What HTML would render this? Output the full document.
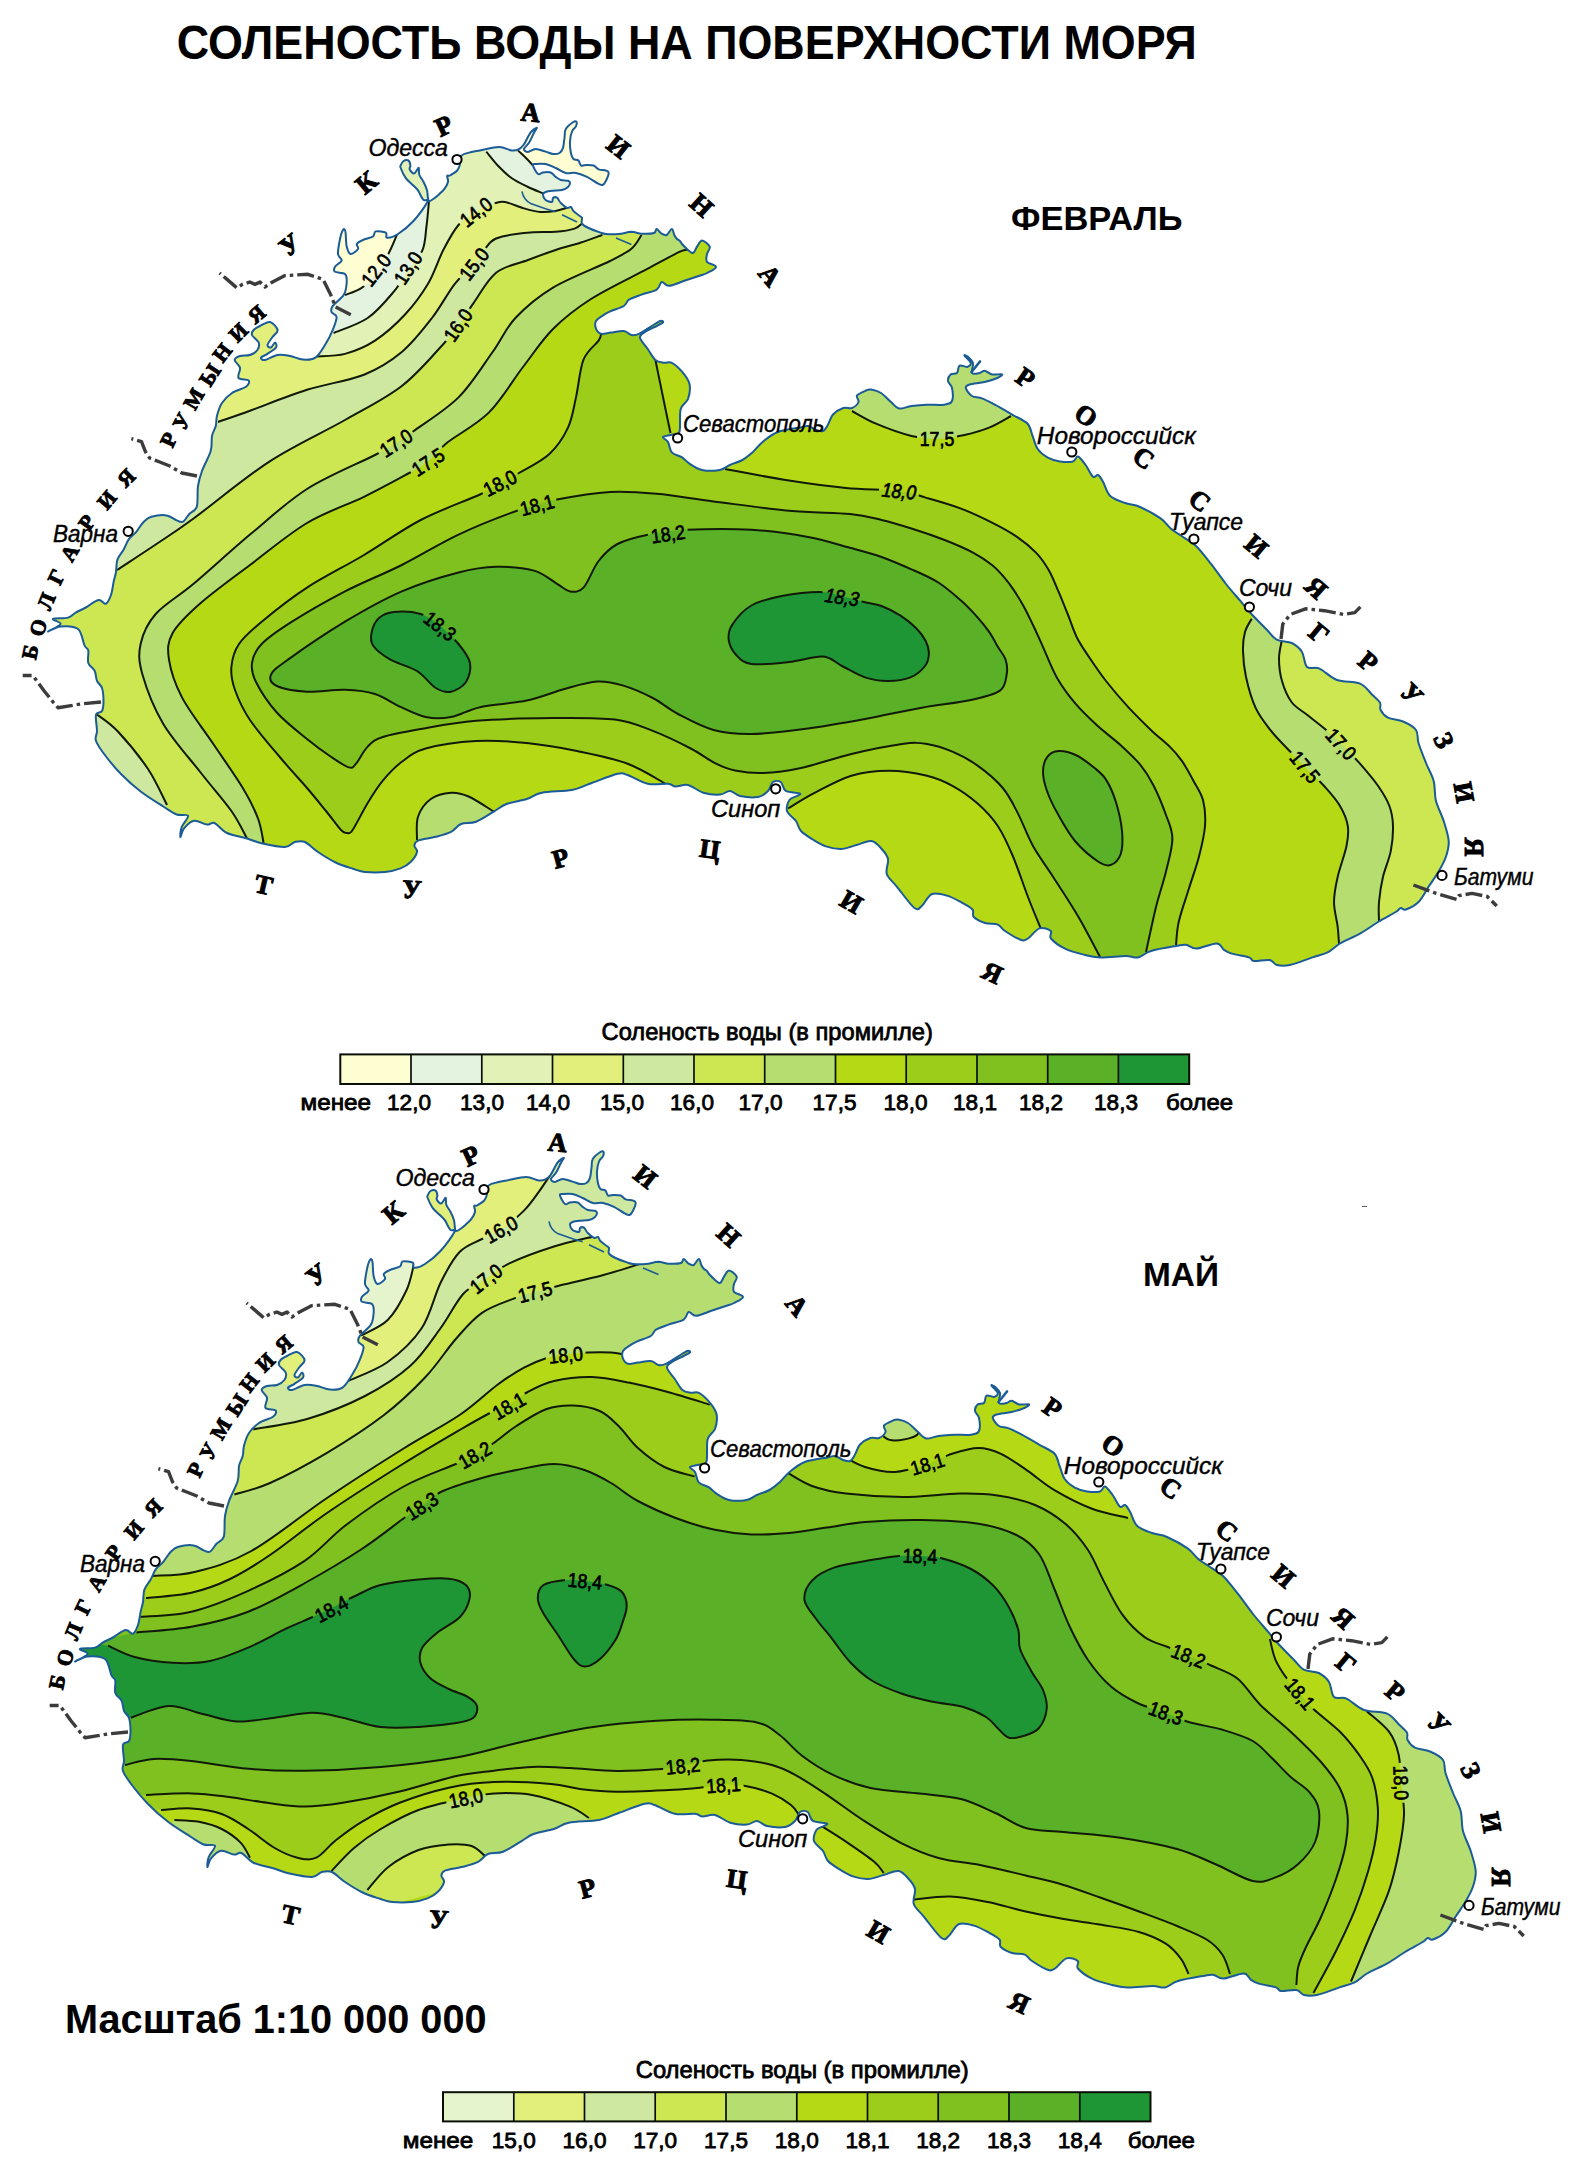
<!DOCTYPE html>
<html lang="ru"><head><meta charset="utf-8"><title>Соленость воды на поверхности моря</title>
<style>html,body{margin:0;padding:0;background:#fff}svg{display:block}</style></head><body>
<svg width="1585" height="2176" viewBox="0 0 1585 2176">
<rect width="1585" height="2176" fill="#fff"/>
<defs>
<path id="coast" d="M461.5,155.7C463.5,153.5 468.5,152.9 471.6,152C474.7,151.1 475.4,151.2 480,150.4C484.6,149.6 493.8,147 499,147C504.2,147 508.4,150 511.5,150.4C514.6,150.8 515.9,150.6 517.9,149.7C519.9,148.8 521.4,147.8 523.5,145C525.6,142.2 528.3,135.6 530.5,132.7C532.7,129.8 536.2,127.7 536.8,127.7C537.4,127.7 535.3,130.2 534,132.7C532.7,135.2 530.7,140.1 529,142.8C527.3,145.5 524.2,147.5 524,149C523.8,150.5 526.1,152 528,152C529.9,152 532.6,149.1 535.5,149C538.4,148.9 542.7,150.8 545.6,151.6C548.5,152.4 550.7,153.8 553,154C555.3,154.2 557.8,154 559.5,153C561.2,152 562.2,150.4 563,147.9C563.8,145.4 564,141 564.5,137.8C565,134.7 564.3,131.6 565.8,129C567.3,126.4 571.6,123.2 573.4,122C575.2,120.8 576.1,121.3 576.5,122C576.9,122.7 576.6,124.8 575.9,126.4C575.1,128 573,129 572,131.5C571,134 570.2,137.9 570,141.5C569.8,145.1 570.3,150.1 570.9,153C571.5,155.9 572.1,157.8 573.4,159C574.6,160.2 577.1,159.4 578.4,160.5C579.7,161.6 579.6,164.8 581,165.5C582.4,166.2 584.9,164.9 587,164.9C589.1,164.9 591.7,164.8 593.6,165.5C595.5,166.2 596.5,168.5 598.6,169.3C600.7,170.2 604.3,170 606,170.6C607.7,171.2 608.7,171.3 608.7,173C608.7,174.7 607,178.7 606,180.7C605,182.7 603.9,184.6 602.4,185C600.9,185.4 599.6,184.3 597,183C594.4,181.7 590.5,178.6 587,176.9C583.5,175.2 579.5,173.7 576,173C572.5,172.3 569.2,173.8 565.8,173C562.4,172.2 559.1,169.5 555.7,168C552.3,166.5 549,164.7 545.6,164C542.2,163.3 537.6,163.8 535.5,164C533.4,164.2 532.6,163.8 533,165.5C533.4,167.2 536.3,172.8 538,174C539.7,175.2 540.9,172.8 543,172.5C545.1,172.2 548.6,171.8 550.7,172.5C552.8,173.2 554,175.7 555.7,176.9C557.4,178.2 558.8,179.4 560.8,180C562.8,180.6 566.5,180.2 568,180.7C569.5,181.2 570,181.9 570,183C570,184.1 569.3,185.8 568,187C566.7,188.2 564.5,189.4 562,190C559.5,190.6 555.7,190.5 553,190.8C550.3,191.1 547.3,191.4 545.6,192C543.9,192.6 543,193.2 543,194.5C543,195.8 544.1,198.8 545.6,200C547.1,201.2 550.8,202.3 552,202C553.2,201.7 552.2,198.7 553,198C553.8,197.3 555.7,196.9 557,197.7C558.3,198.5 559.1,201.3 560.8,203C562.5,204.7 565.3,207.1 567,207.8C568.7,208.5 569.8,206.5 570.9,207C572,207.5 571.9,209.5 573.4,211C574.9,212.5 578.3,214.8 579.7,216C581.1,217.2 581.6,216.6 582,217.9C582.4,219.2 580.9,221.9 582,223.6C583.1,225.3 585.5,226.5 588.5,228C591.5,229.5 597,231.4 599.9,232.4C602.8,233.4 602.9,233.7 606,234C609.1,234.3 614.6,234.4 618.8,234C623,233.6 627.6,231.9 631.4,231.8C635.2,231.8 637.7,233.5 641.5,233.7C645.3,233.9 651.5,233.8 654,233C656.5,232.2 655.4,228.9 656.7,229C658,229.1 660,232.7 661.7,233.7C663.4,234.7 665,235.8 666.7,235C668.4,234.2 670.5,229 671.8,229C673.1,229 673.5,233.4 674.3,235C675.1,236.6 675.8,237.7 676.8,238.7C677.8,239.7 679.1,240.1 680,241C680.9,241.9 680.8,242.7 682,244C683.2,245.3 685.2,247.5 687,249C688.8,250.5 691.3,253.4 693,253C694.7,252.6 695.5,248.8 697,246.7C698.5,244.6 699.9,240.4 702,240.4C704.1,240.4 708.9,244.4 709.7,246.7C710.5,249 707.5,251.5 707,254C706.5,256.5 705.5,259.7 707,261.8C708.5,263.9 716,265 716,266.9C716,268.8 709.7,271.5 707,273C704.3,274.5 703.4,274.4 699.6,275.7C695.8,277 689.5,279.1 684.4,280.8C679.3,282.5 672.8,285.6 669,285.8C665.2,286 663.8,281.4 661.7,282C659.7,282.6 660.1,287.5 656.7,289.6C653.3,291.7 646.1,292.9 641.5,294.6C636.9,296.3 632,297.8 629,299.7C626,301.6 626.8,304.1 623.8,306C620.8,307.9 614.4,309.5 611,311C607.6,312.5 606.2,313.1 603.7,314.8C601.2,316.5 597.3,318.7 596,321C594.7,323.3 595.2,326.6 596,328.7C596.8,330.8 598.5,333.2 601,333.8C603.5,334.4 607.2,333 611,332.5C614.8,332 620.4,330.6 623.8,331C627.2,331.4 628.9,334.5 631.4,335C633.9,335.5 635.6,335.3 639,333.8C642.4,332.3 648,328.1 651.6,326C655.2,323.9 658.5,321.6 660.4,321C662.3,320.4 663.6,321.6 663,322.4C662.4,323.2 659.4,324.6 656.7,326C654,327.4 649.4,329.1 646.6,331C643.8,332.9 639.8,334.5 640,337.5C640.2,340.5 645.2,345.2 647.8,349C650.4,352.8 652.7,357.7 655.4,360C658.1,362.3 661.3,362.3 664,362.8C666.7,363.3 668.8,361.3 671.8,362.8C674.8,364.3 679,368.1 682,371.6C685,375.1 688.5,379.4 689.5,384C690.5,388.6 689.5,394.8 688,399C686.5,403.2 682,404 680.6,409.5C679.2,415 680.9,427.8 679.4,432C677.9,436.2 674.5,433.9 671.8,434.7C669.1,435.5 663.6,435.8 663,437C662.4,438.2 666.5,439.4 668,442C669.5,444.6 669.5,449.8 671.8,452.4C674.1,455 679,455.5 682,457.4C685,459.3 686.2,461.6 689.5,463.7C692.8,465.8 697,468.9 702,470C707,471.1 715.1,470.8 719.7,470C724.3,469.2 726,466.7 729.8,465C733.6,463.3 738.7,462.1 742.5,460C746.3,457.9 749.1,455.4 752.5,452.4C755.9,449.4 758.4,445.4 762.6,442C766.8,438.6 771.5,434.4 777.8,432C784.1,429.6 795.5,428.4 800.5,427.4C805.5,426.4 805.5,425.6 808,426C810.5,426.4 813.1,428.9 815.6,429.7C818.1,430.5 820.9,431.9 823,431C825.1,430.1 826.3,427.4 828,424.6C829.7,421.9 830.4,417.3 833,414.5C835.6,411.7 840.2,409.1 843.4,408C846.6,406.9 849.5,409 852,408C854.5,407 857.7,404.1 858.5,402C859.3,399.9 855.8,397.5 857,395.6C858.2,393.7 863.7,391.5 866,390.5C868.3,389.5 868.5,389.2 871,389.6C873.5,390 877.7,390.9 881,393C884.3,395.1 888,399.4 891,402C894,404.6 895.6,407.8 899,408.5C902.4,409.2 906.9,406.6 911.5,406C916.1,405.4 921.3,404.9 926.7,404.7C932.1,404.5 939.8,405.3 944,404.7C948.2,404.1 950.7,403.8 952,401C953.3,398.2 952.7,391.4 952,388C951.3,384.6 948.2,383.1 948,380.8C947.8,378.5 949.1,375.7 950.6,374.4C952.1,373.1 955.5,374.5 957,373C958.5,371.5 957.8,366.6 959.5,365.6C961.2,364.6 965.1,367.3 967,366.9C968.9,366.5 971.2,364.9 970.8,363C970.4,361.1 965,356.5 964.5,355.5C964,354.5 966.6,355.6 968,356.8C969.4,358.1 972.3,360.3 973,363C973.7,365.7 970.9,371.3 972,373C973.1,374.7 977.5,373.4 979.6,373C981.7,372.6 982.6,370.5 984.7,370.7C986.8,370.9 989.1,373.8 992,374.4C994.9,375 1001.1,373.8 1002,374.4C1002.9,375 1000.2,376.7 997.3,378C994.4,379.3 989.3,380.9 984.7,382C980.1,383.1 972.8,383.5 969.6,384.5C966.5,385.5 965.4,386.1 965.8,388C966.2,389.9 969.3,394.3 972,396C974.7,397.7 978.2,396.9 982,398.4C985.8,399.8 989.7,402 994.8,404.7C999.9,407.4 1007,411.6 1012.5,414.8C1018,418 1024.2,420.2 1027.6,423.7C1030.9,427.2 1030.9,431.8 1032.6,436C1034.3,440.2 1035.2,445.4 1037.7,449C1040.2,452.6 1044.1,455.6 1047.8,457.7C1051.5,459.8 1055.8,460.9 1060,461.5C1064.2,462.1 1070,462.3 1073,461.5C1076,460.7 1075.9,455.9 1078,456.5C1080.1,457.1 1083.1,461.6 1085.6,465C1088.1,468.4 1090.9,475 1093,476.7C1095.1,478.4 1096.3,474.2 1098,475C1099.7,475.8 1101,478.2 1103,481.7C1105,485.1 1106.3,492.1 1110,495.7C1113.7,499.2 1120,501.1 1125,503C1130,504.9 1134.1,504.4 1140,507C1145.9,509.6 1155.5,514.8 1160.6,518.4C1165.7,522 1167,525.4 1170.7,528.5C1174.4,531.6 1178.8,534.1 1183,537C1187.2,539.9 1191.3,541.5 1196,546C1200.7,550.5 1206,557.6 1211,563.9C1216,570.2 1221,577.7 1226,584C1231,590.3 1236.8,596.7 1241,601.7C1245.2,606.7 1247.1,609.4 1251.4,614C1255.7,618.6 1262.4,625.2 1266.6,629.5C1270.8,633.8 1272.5,637.4 1276.7,639.6C1280.9,641.9 1287.6,640.9 1291.8,643C1296,645.1 1299.5,648 1302,652C1304.5,656 1304.1,664.2 1307,667C1309.9,669.8 1314.5,666.4 1319.5,668.6C1324.5,670.8 1330.2,677.5 1337,680C1343.8,682.5 1354.1,681.2 1360,683.7C1365.9,686.2 1369.2,691.9 1372.5,695C1375.8,698.1 1378.7,700.1 1380,702.6C1381.3,705.1 1379.3,707.5 1380.6,710C1381.9,712.5 1384.3,715.8 1388,717.7C1391.7,719.6 1398.3,719.5 1403,721.5C1407.7,723.5 1413.4,726.4 1416,730C1418.6,733.6 1416.8,737.5 1418.5,743C1420.2,748.5 1423.5,756.7 1426,763C1428.5,769.3 1431.9,774.5 1433.6,780.8C1435.3,787.1 1434.3,794.3 1436,801C1437.7,807.7 1441.6,814.3 1443.7,821C1445.8,827.7 1448.3,835.1 1448.7,841C1449.1,846.9 1447.7,851.4 1446,856.5C1444.3,861.6 1441.5,866.6 1438.6,871.6C1435.7,876.6 1431.8,881.7 1428.5,886.8C1425.2,891.9 1422.3,898.2 1418.5,902C1414.7,905.8 1408.8,908.5 1405.8,909.5C1402.8,910.5 1402.5,907.6 1400.8,908C1399.1,908.4 1399.5,909.7 1395.7,912C1391.9,914.3 1383.9,918.4 1378,922C1372.1,925.6 1366.7,929.8 1360.4,933.4C1354.1,937 1345.5,940.3 1340,943.5C1334.5,946.7 1332.2,950.1 1327.6,952.4C1323,954.7 1318.8,955.3 1312.5,957.4C1306.2,959.5 1295.6,963.7 1289.7,965C1283.8,966.3 1280.3,965.8 1277,965C1273.7,964.2 1273.4,960.7 1269.6,960C1265.8,959.3 1257.4,961.4 1254,961C1250.6,960.6 1252.7,958.6 1249,957.4C1245.3,956.2 1235.9,954.9 1231.7,953.6C1227.5,952.3 1226.5,951.5 1224,949.8C1221.5,948.1 1221.2,943.7 1216.6,943.5C1212,943.3 1201.5,948.4 1196.4,948.6C1191.3,948.8 1189.4,945.2 1186,944.8C1182.6,944.4 1181.8,945 1176,946C1170.2,947 1157.3,949.1 1151,951C1144.7,952.9 1142.2,956.6 1138,957.4C1133.8,958.2 1132,956 1125.7,956C1119.5,956 1107.3,957.6 1100.5,957.4C1093.7,957.2 1090.9,956.5 1085,955C1079.1,953.5 1070.7,951.4 1065,948.6C1059.3,945.9 1053.4,941.4 1051,938.5C1048.6,935.6 1052.7,932.7 1050.8,931C1048.9,929.3 1043.2,927.1 1039.4,928.4C1035.6,929.6 1031.2,936.6 1028,938.5C1024.8,940.4 1024.3,941 1020.5,939.7C1016.7,938.5 1008.8,933.5 1005,931C1001.2,928.5 1001.1,925.9 997.8,924.6C994.5,923.3 989,924.3 985,923C981,921.7 975.9,919.2 973.8,917C971.7,914.8 974.4,911.8 972.5,909.5C970.6,907.2 966.8,905.3 962.5,903C958.2,900.7 952.1,897.1 947,895.6C941.9,894.1 936.2,892.3 932,894C927.8,895.7 924.9,903.4 922,905.7C919.1,908 918.7,911.1 914.5,908C910.3,904.9 901.6,892.5 897,886.8C892.4,881.1 888.3,878.6 886.8,874C885.3,869.4 888.9,863.2 888,859C887.1,854.8 884.4,852 881.7,849C879,846 875.8,841.7 871.6,841C867.4,840.3 861.6,843.7 856.5,845C851.4,846.3 846.1,848.8 841,849C835.9,849.2 830.6,847.9 826,846.4C821.4,844.9 817.8,842.6 813.6,840C809.4,837.4 803.9,834.2 801,831C798.1,827.8 798.3,824.3 796,821C793.7,817.7 788.1,814.5 787,811C785.9,807.5 787.9,802.2 789.6,799.7C791.3,797.2 795.3,797 797,796C798.7,795 801.6,794.2 799.7,793.4C797.8,792.5 788.9,792.8 785.8,790.9C782.6,789 782.9,783.5 780.8,782C778.7,780.5 775.1,780.5 773,782C770.9,783.5 770.5,788.5 768,791C765.5,793.5 762.7,796.2 758,797C753.3,797.8 744.7,797 740,796C735.3,795 733.3,791.1 730,790.9C726.7,790.7 724.5,794.3 720,794.6C715.5,794.9 708.6,794.3 703.3,792.7C698,791.1 692.6,786 688,785C683.4,784 678.9,786.6 675.6,786.4C672.3,786.2 672.6,784.2 668,783.8C663.4,783.4 654.5,785.3 647.8,783.8C641.1,782.3 632.6,776.7 627.6,775C622.6,773.3 623.8,772.3 617.5,773.8C611.2,775.3 597.3,781.1 589.7,783.8C582.1,786.5 580,788.5 572,790C564,791.5 549.3,791.2 541.8,792.7C534.2,794.2 532.6,797.1 526.7,799C520.8,800.9 512,801.9 506.5,804C501,806.1 498.9,808.6 493.8,811.6C488.7,814.6 481.5,819.6 476,821.7C470.5,823.8 465.2,822.3 461,824C456.8,825.7 455.2,829.7 451,831.8C446.8,833.9 441.3,835.3 435.8,836.8C430.3,838.3 421.6,839.1 418,840.6C414.4,842.1 414.6,843.8 414.4,845.7C414.2,847.6 417.6,849.3 417,852C416.4,854.7 413.4,859.3 410.6,862C407.9,864.7 404.8,866.7 400.5,868.4C396.2,870.1 390.9,871.4 385,872C379.1,872.6 370.3,872.5 365,872C359.7,871.5 357.9,870.4 353,868.8C348.1,867.2 341.4,865.3 335.6,862.5C329.8,859.7 323.1,855.4 318,852C312.9,848.6 308.8,843.7 305,842C301.2,840.3 298.3,841.2 295,842C291.7,842.8 290.4,846.8 285,847C279.6,847.2 268.8,844.9 262.5,843.5C256.2,842.1 252.9,840.2 247,838.5C241.1,836.8 232.4,835.6 227,833C221.6,830.4 217.8,824.4 214.5,823C211.2,821.6 210.4,825 207,824.6C203.6,824.2 197.8,820.2 194,820.8C190.2,821.4 186.3,825.7 184,828.4C181.7,831.1 180.8,837.2 180.4,837C180,836.8 180.4,830.5 181.7,827C183,823.5 188.8,817.9 188,815.8C187.2,813.7 180.7,816 176.7,814.5C172.7,813 169.9,810.8 164,807C158.1,803.2 148.2,797.3 141,791.8C133.8,786.3 126.8,779.9 121,774C115.2,768.1 110.2,762 106,756.5C101.8,751 97.5,745.2 96,741C94.5,736.8 97,735.4 97,731C97,726.6 95.2,718.1 96,714.8C96.8,711.5 100.8,713.3 102,711C103.2,708.7 103.5,704.8 103.5,701C103.5,697.2 103.1,691.4 102,688C100.9,684.6 98.2,683.7 97,680.8C95.8,677.9 96,673.7 94.6,670.7C93.1,667.7 89.3,666.4 88.3,663C87.2,659.6 88.9,653.4 88.3,650.5C87.7,647.6 86.2,649 84.5,645.4C82.8,641.8 82,632.1 78,629C74,625.9 65.6,626.1 60.6,626.5C55.6,626.9 48,631.9 48,631.5C48,631.1 59.8,626.1 60.6,624C61.4,621.9 51.8,620.1 53,619C54.2,617.9 64.2,618.7 68,617.6C71.8,616.5 72.7,614.3 75.7,612.6C78.7,610.9 82,609.6 85.8,607.5C89.6,605.4 95,600.6 98.4,600C101.8,599.4 103.9,604.5 106,603.7C108.1,602.9 109.7,598.6 111,595C112.3,591.4 112.8,585.8 113.6,582C114.4,578.2 115.4,575.7 116,572C116.6,568.3 116.1,563.4 117.4,559.6C118.7,555.9 121.8,552.9 123.7,549.5C125.6,546.1 126.6,542.4 128.7,539.4C130.8,536.4 133.8,534.8 136.3,531.8C138.8,528.8 141.3,524.2 143.8,521.7C146.3,519.2 147.6,517.8 151.4,516.7C155.2,515.7 162.4,514.8 166.6,515.4C170.8,516 174,519.3 176.7,520.4C179.4,521.5 180.9,522.8 183,521.7C185.1,520.6 187,516.5 189.3,514C191.6,511.5 195.4,511.3 196.8,506.6C198.2,501.9 197.1,491.9 198,486C198.9,480.1 199.9,476.8 202,471C204.1,465.2 209,456.8 210.7,451C212.4,445.2 211.2,440.2 212,436C212.8,431.8 215,429.2 215.8,425.8C216.6,422.4 216,419.5 217,415.7C218,411.9 219.5,406.8 222,403C224.5,399.2 228,395.7 232,393C236,390.3 243.2,388.8 246,386.7C248.8,384.6 249.8,381.9 248.6,380.4C247.3,378.9 239.9,380 238.5,377.9C237.1,375.8 240.6,370.8 240,367.8C239.4,364.8 234.7,362 234.7,360C234.7,358 237.4,356.8 240,356C242.6,355.2 247.1,356 250,355C252.9,354 255.9,352.1 257.4,350C258.8,347.9 259.6,345 258.7,342.5C257.8,340 252.8,337.1 252,335C251.2,332.9 252.3,331.5 253.6,330C254.9,328.5 257.3,327.3 260,326C262.7,324.7 267.1,321.3 270,322C272.9,322.7 277.2,327.5 277.6,330C278,332.5 274.2,334.5 272.5,337C270.8,339.5 267.8,343.2 267.5,345C267.2,346.8 269.8,347.9 271,347.5C272.2,347.1 274.2,342.5 275,342.5C275.8,342.5 277.2,345.6 276,347.5C274.8,349.4 270,352.1 267.5,353.8C265,355.5 261.4,356.6 261,357.6C260.6,358.6 262.2,360.4 265,360C267.8,359.6 273.4,355.7 277.6,355C281.8,354.3 285.8,355.2 290,356C294.2,356.8 298.6,359.3 302.8,359.6C307.1,359.9 311.8,360 315.5,357.6C319.2,355.2 322.1,349.6 325,345C327.9,340.4 330.9,334.5 332.8,329.8C334.7,325.1 336.8,320 336.6,317C336.4,314 332.1,313.9 331.5,312C330.9,310.1 330.7,308.8 332.8,305.9C334.9,303 341.7,298.5 344,294.5C346.3,290.5 346.5,285.4 346.7,282C346.9,278.6 346.9,275.7 345,274C343.1,272.3 336.7,273 335,271.8C333.3,270.6 333.9,268.6 335,266.7C336.1,264.8 341.1,262.5 341.6,260.4C342.1,258.3 338.3,257.6 338,254C337.7,250.4 339.2,243 340,239C340.8,235 342.1,231.3 343,230C343.9,228.7 344.8,228.6 345.4,231.4C346,234.2 345.8,242.8 346.7,246.6C347.6,250.4 348.6,253.6 350.5,254C352.4,254.4 356.9,250.7 358,249C359.1,247.3 356,245.5 356.8,244C357.6,242.5 360.3,241.2 363,240C365.7,238.8 370.9,237.9 373,236.5C375.1,235.1 373.6,232 375.7,231.4C377.8,230.8 383.9,231.6 385.8,232.7C387.7,233.8 385,237.5 387,237.7C389,237.9 393.6,236.8 398,234C402.4,231.2 408.6,226.3 413.5,221C418.4,215.7 425.7,205.5 427.4,202C429.1,198.5 424.7,201 423.6,200C422.5,199 421.7,197.4 420.8,195.8C419.9,194.2 419.4,192.2 418,190.3C416.6,188.5 414.6,186.8 412.5,184.7C410.4,182.6 407.6,180.6 405.6,177.8C403.6,175 401.5,170.1 400.7,168C399.9,165.9 400.2,166.5 400.7,165.3C401.2,164.1 402.2,161.8 403.5,161C404.8,160.2 407.2,159.7 408.3,160.4C409.4,161.1 410.2,163.8 410.4,165.3C410.6,166.8 409.1,168 409.7,169.4C410.3,170.8 412.6,173.6 413.9,173.6C415.2,173.6 416.6,170.3 417.4,169.4C418.2,168.5 418.5,167.1 418.8,168C419.1,168.9 418.6,172.7 419.4,175C420.2,177.3 422.3,179.4 423.6,182C424.9,184.6 426.3,187.8 427,190.3C427.7,192.8 427.5,195.2 427.8,197C428.1,198.8 428.1,200.7 429,201C429.9,201.3 431.7,200.1 433.3,199C434.9,197.9 437,196.1 438.9,194.4C440.8,192.7 442.9,191 444.4,188.9C445.9,186.8 447.5,184.2 448,182C448.5,179.8 446.9,177.1 447.2,176C447.5,174.9 448.4,176.4 450,175.5C451.6,174.6 455.4,172.5 457,170.8C458.6,169.1 458.9,167.8 459.7,165.3C460.4,162.8 459.5,157.9 461.5,155.7Z"/>
<clipPath id="sea"><use href="#coast"/></clipPath>
<mask id="lm1" maskUnits="userSpaceOnUse" x="0" y="0" width="1600" height="1100"><rect x="0" y="0" width="1600" height="1100" fill="#fff"/><rect transform="translate(376,270) rotate(-52)" x="-20" y="-9" width="40" height="18" fill="#000"/><rect transform="translate(408,268) rotate(-57)" x="-20" y="-9" width="40" height="18" fill="#000"/><rect transform="translate(476,212) rotate(-38)" x="-20" y="-9" width="40" height="18" fill="#000"/><rect transform="translate(474,264) rotate(-52)" x="-20" y="-9" width="40" height="18" fill="#000"/><rect transform="translate(458,325) rotate(-55)" x="-20" y="-9" width="40" height="18" fill="#000"/><rect transform="translate(396,443) rotate(-33)" x="-20" y="-9" width="40" height="18" fill="#000"/><rect transform="translate(428,462) rotate(-33)" x="-20" y="-9" width="40" height="18" fill="#000"/><rect transform="translate(500,483) rotate(-27)" x="-20" y="-9" width="40" height="18" fill="#000"/><rect transform="translate(537,505) rotate(-15)" x="-20" y="-9" width="40" height="18" fill="#000"/><rect transform="translate(668,534) rotate(-8)" x="-20" y="-9" width="40" height="18" fill="#000"/><rect transform="translate(440,626) rotate(38)" x="-20" y="-9" width="40" height="18" fill="#000"/><rect transform="translate(842,597) rotate(8)" x="-20" y="-9" width="40" height="18" fill="#000"/><rect transform="translate(937,439) rotate(0)" x="-20" y="-9" width="40" height="18" fill="#000"/><rect transform="translate(899,491) rotate(5)" x="-20" y="-9" width="40" height="18" fill="#000"/><rect transform="translate(1305,767) rotate(50)" x="-20" y="-9" width="40" height="18" fill="#000"/><rect transform="translate(1341,744) rotate(48)" x="-20" y="-9" width="40" height="18" fill="#000"/></mask>
<mask id="lm2" maskUnits="userSpaceOnUse" x="0" y="0" width="1600" height="1100"><rect x="0" y="0" width="1600" height="1100" fill="#fff"/><rect transform="translate(474,199.5) rotate(-30)" x="-20" y="-9" width="40" height="18" fill="#000"/><rect transform="translate(459,248.7) rotate(-38)" x="-20" y="-9" width="40" height="18" fill="#000"/><rect transform="translate(508,262) rotate(-15)" x="-20" y="-9" width="40" height="18" fill="#000"/><rect transform="translate(538.6,325) rotate(-6)" x="-20" y="-9" width="40" height="18" fill="#000"/><rect transform="translate(481.8,376) rotate(-30)" x="-20" y="-9" width="40" height="18" fill="#000"/><rect transform="translate(447.8,425) rotate(-30)" x="-20" y="-9" width="40" height="18" fill="#000"/><rect transform="translate(394.8,476) rotate(-33)" x="-20" y="-9" width="40" height="18" fill="#000"/><rect transform="translate(304.5,579) rotate(-28)" x="-20" y="-9" width="40" height="18" fill="#000"/><rect transform="translate(558,551) rotate(5)" x="-20" y="-9" width="40" height="18" fill="#000"/><rect transform="translate(893,526) rotate(2)" x="-20" y="-9" width="40" height="18" fill="#000"/><rect transform="translate(900.4,434) rotate(-17)" x="-20" y="-9" width="40" height="18" fill="#000"/><rect transform="translate(1161.5,626) rotate(22)" x="-20" y="-9" width="40" height="18" fill="#000"/><rect transform="translate(1139,683) rotate(20)" x="-20" y="-9" width="40" height="18" fill="#000"/><rect transform="translate(1273,663.8) rotate(50)" x="-20" y="-9" width="40" height="18" fill="#000"/><rect transform="translate(1374,752.8) rotate(88)" x="-20" y="-9" width="40" height="18" fill="#000"/><rect transform="translate(656,736) rotate(-6)" x="-20" y="-9" width="40" height="18" fill="#000"/><rect transform="translate(696.5,755) rotate(-4)" x="-20" y="-9" width="40" height="18" fill="#000"/><rect transform="translate(438.9,768) rotate(-12)" x="-20" y="-9" width="40" height="18" fill="#000"/></mask>
</defs>
<g transform="translate(0,0)">
<g clip-path="url(#sea)">
<rect x="0" y="80" width="1500" height="920" fill="#fffdd2"/>
<path d="M345,295C347.8,293.8 356.5,291.4 362,287.6C367.5,283.8 373.3,278.3 378,272C382.7,265.7 387.1,256.5 390.4,249.8C393.7,243.1 396.7,235 398,232L396,222L380,150L380,60L1700,60L1700,1010L-100,1010L-100,300L330,300Z" fill="#e4f3e0"/>
<path d="M333.6,333C339.3,330.5 357.6,324.9 367.7,318C377.8,311.1 387.1,299.6 394,291.4C400.9,283.2 404.2,275.6 409,268.7C413.8,261.8 419.7,256.8 422.6,249.8C425.5,242.9 425.3,235.1 426.4,227C427.5,218.9 428.6,205.3 429,201L396,205L392,150L450,110L487,125L486.3,151.6C488.4,154.1 494.8,162.4 499,166.8C503.2,171.2 506.7,174.6 511.5,178C516.3,181.4 522.8,184.4 528,187C533.2,189.6 540.5,192.2 543,193.3L550,195.5L560,195L569,193L574,186L574,178L585,150L600,60L1700,60L1700,1010L-100,1010L-100,336L325,338Z" fill="#e2f1b6"/>
<path d="M316.6,356.5C321.3,356.1 335.3,356.5 345,353.9C354.7,351.2 364.9,347.2 375,340.6C385.1,334 396.7,323.5 405.5,314C414.3,304.5 421.7,294.5 428,283.8C434.3,273.1 438.3,259.6 443.4,249.8C448.5,240 453.1,231.3 458.5,225C463.9,218.7 469.5,215.6 475.6,212C481.7,208.4 490.1,205.1 495,203.4C499.9,201.7 500.2,201.2 505,202C509.8,202.8 518.1,206.7 524,208.4C529.9,210.1 535.3,211.6 540.6,212C545.9,212.4 551.3,211.7 555.7,211C560.1,210.3 565.1,208.3 567,207.8L572,204L600,150L640,60L1700,60L1700,1010L-100,1010L-100,310L300,310Z" fill="#e3ef7b"/>
<path d="M218,422C223.3,420.1 235.2,416.1 250,410.7C264.8,405.3 288,395.8 307,389.8C326,383.8 348.2,381 364,374.7C379.8,368.4 390.5,361.4 401.8,352C413.1,342.6 423.2,329.4 432,318C440.8,306.6 447.9,292.6 454.8,283.8C461.8,275 467.7,272 473.7,265C479.7,258 485.5,246.8 490.7,242C495.9,237.2 498.4,237.6 505,236C511.6,234.4 522,233.1 530.5,232.4C539,231.7 548.4,232.4 555.7,231.8C563.1,231.2 570.2,230 574.6,228.6C579,227.2 580.8,224.4 582,223.6L590,215L640,150L660,60L1700,60L1700,1010L-100,1010L-100,420Z" fill="#cfe8a0"/>
<path d="M117,570C123.3,565.8 142.2,553.6 155,545C167.8,536.4 174.6,532.4 193.6,518.5C212.6,504.6 243.8,478.2 269,461.8C294.2,445.4 322.9,432.6 345,420C367.1,407.4 385.4,398.7 401.8,386C418.2,373.3 433.9,354.1 443.4,344C452.8,333.9 453.4,332.4 458.5,325.5C463.6,318.6 467.4,311.6 473.7,302.8C480,294 487.3,279.6 496.4,272.5C505.4,265.4 518.1,263.8 528,260C537.9,256.2 546.9,252.9 555.7,250C564.5,247.1 573.2,245 581,242.5C588.8,240 598.8,236.2 602.4,235L610,225L660,150L680,60L1700,60L1700,1010L-100,1010L-100,572Z" fill="#cde752"/>
<path d="M247,838.5C244.4,833.9 239.1,821.9 231.4,811C223.7,800.1 212.3,787.5 201,773C189.7,758.5 173.1,740.3 163.3,723.9C153.6,707.5 146.3,688 142.5,674.7C138.7,661.4 138.4,654.1 140.6,644C142.8,633.9 146.9,624 155.7,614C164.5,604 177.9,597 193.6,583.8C209.3,570.6 231.1,550.4 250,534.6C268.9,518.8 286.2,502.3 307,489C327.8,475.7 360.2,462.7 375,455C389.8,447.3 389.7,446.9 396,443C402.3,439.1 402.6,439.1 413,431.5C423.4,423.9 445.2,410.6 458.5,397.4C471.8,384.1 483.1,365.2 492.6,352C502.1,338.8 505.3,328.7 515.4,318C525.5,307.3 537.2,297.1 553,287.6C568.8,278.1 596.9,267.5 610,261C623.1,254.5 626.1,253.1 631.4,248.8C636.6,244.5 639.8,237.3 641.5,235L648,225L680,150L700,60L1700,60L1700,1010L-100,1010L240,1010L246,850Z" fill="#b5dd6f"/>
<path d="M263.6,843C262.7,838.9 261.5,827.7 258,818.5C254.5,809.3 250.4,800.6 242.8,788C235.2,775.4 222.6,757.9 212.5,742.8C202.4,727.7 189.2,711.3 182,697.4C174.8,683.5 170.6,670.3 169,659.6C167.4,648.9 167.4,642.5 172.7,633C178,623.5 188.1,614.1 201,602.8C213.9,591.5 232.3,578.3 250,565C267.7,551.7 288,534.4 307,523C326,511.6 346.9,505.1 364,496.8C381.1,488.5 398.6,478.8 409.3,473C420,467.2 421.7,466.8 428,461.8C434.3,456.8 436.9,451 447,442.8C457.1,434.6 476.1,425.2 488.8,412.6C501.5,400 512.3,380.9 523,367C533.7,353.1 541.7,340.3 553,329C564.3,317.7 575.2,309.1 591,299C606.8,288.9 633,276.6 647.8,268.7C662.6,260.8 673.2,254.8 680,251.7C686.8,248.6 687.2,250.3 688.6,250L695,245L720,150L740,60L1700,60L1700,1010L-100,1010L262,1010L263,850Z" fill="#b6d916"/>
<path d="M601,334C600.6,335.1 601.5,336.3 598.6,340.6C595.7,344.9 587.3,350.1 583.5,359.6C579.7,369.1 578.6,386 576,397.4C573.4,408.8 572.4,418.3 568,427.7C563.6,437.1 557.6,446.4 549.4,454C541.2,461.6 527.2,468.2 519,473C510.8,477.8 506.3,479.1 500,482.6C493.7,486.1 494.2,487.8 481,494C467.8,500.2 440.2,509.8 420.7,520C401.2,530.2 382.9,543.7 364,555C345.1,566.3 324.1,576.5 307,587.6C289.9,598.7 273,612.3 261.7,621.7C250.4,631.1 244.1,636.5 239,644C233.9,651.5 232.1,659.3 231.4,667C230.7,674.7 231.9,681.2 235,690C238.1,698.8 242.4,708.7 250,720C257.6,731.3 271.1,746.7 280.6,758C290.1,769.3 299.4,779.2 307,788C314.6,796.8 320.3,804 326,811C331.7,818 337.5,826.3 341,830C344.5,833.7 345.1,833 347,833C348.9,833 349.2,835 352.6,830C356.1,825 362.7,811.2 367.7,803C372.7,794.8 377.1,787.6 382.8,780.7C388.5,773.8 394.7,767.2 401.8,761.8C408.9,756.4 413.3,752 425.7,748.5C438.1,745 459.2,741.9 476,741C492.8,740.1 509.9,741.3 526.7,743C543.5,744.7 560.2,747.5 577,751C593.8,754.5 612.9,758.2 627.6,763.7C642.4,769.2 659.2,780.4 665.5,783.8L690,830L780,830L788,808.5C792.3,806 803,798.9 813.6,793.4C824.2,787.9 838.8,779.5 851.4,775.7C864,771.9 876.4,770.7 889,770.7C901.6,770.7 916.4,773.2 927,775.7C937.6,778.2 944,781.2 952.4,785.8C960.8,790.4 970,796.8 977.6,803.5C985.2,810.2 991.9,817.2 997.8,826C1003.7,834.8 1008,844.7 1013,856.5C1018,868.3 1023.4,885 1028,897C1032.6,909 1038.6,923.2 1040.7,928.4L1080,1000L1176,990L1176,945C1176.5,941.2 1176.6,931.3 1178.7,922C1180.8,912.7 1185.4,899.9 1188.8,889C1192.2,878.1 1196.3,867 1199,856.5C1201.7,846 1204.3,835.4 1205,826C1205.7,816.6 1205,807.7 1203,800C1201,792.3 1196.5,786.6 1193,780C1189.5,773.4 1185.5,766 1181.7,760.6C1177.9,755.2 1175.5,752.4 1170.4,747.4C1165.4,742.4 1158.4,737 1151.4,730.4C1144.5,723.8 1136.3,715.8 1128.7,707.6C1121.1,699.4 1112.5,689.3 1106,681C1099.5,672.7 1094.5,665.2 1089.7,658C1084.9,650.8 1080.7,645 1077,637.7C1073.3,630.4 1070.9,621.9 1067.7,614C1064.5,606.1 1061.2,597.7 1058,590.4C1054.8,583.1 1052.4,576.3 1048.7,570C1045,563.7 1041.3,558.1 1036,552.6C1030.7,547.1 1024.3,541.8 1017,536.8C1009.7,531.8 1001.4,527.3 992,522.6C982.6,517.9 971.5,512.6 960.4,508.4C949.3,504.2 935.8,500.5 925.6,497.6C915.4,494.7 912.3,492.6 899,491C885.7,489.4 864.3,489.7 846,488C827.7,486.3 809.2,483.8 789,480.6C768.8,477.4 735.7,470.9 725,469L720,420L720,360L680,340L650,318L620,322L603,327Z" fill="#9ccd1b"/>
<path d="M655.4,360C656.7,366.2 660.5,384.8 663,397C665.5,409.2 669.2,427 670.5,433L700,440L720,400L700,360L670,350Z" fill="#b6d916"/>
<path d="M1100,957C1096.4,950.3 1086.3,930.4 1078.5,917C1070.7,903.6 1060.6,888.5 1053,876.7C1045.4,864.9 1038.8,856.5 1033,846C1027.2,835.5 1023,823.3 1018,813.6C1013,803.9 1009.5,796 1002.8,788C996.1,780 986,771.6 977.6,765.6C969.2,759.6 960.8,755.3 952.4,751.7C944,748.1 935.4,745.3 927,744C918.6,742.7 914.6,742.3 902,744C889.4,745.7 868.2,750 851.4,754C834.6,758 815.7,764.8 801,768C786.3,771.2 774,772.6 763,773C752,773.4 742.8,772 735,770.5C727.2,769 723.4,767.4 716,763.7C708.6,760 701.2,754 690.7,748.5C680.2,743 665.4,735.7 652.8,730.9C640.2,726.1 631.8,721.6 615,719.5C598.2,717.4 575.2,717.8 552,718C528.8,718.2 497.9,719 476,720.8C454.1,722.6 436.2,726.3 420.7,729C405.2,731.7 391.6,734.1 382.8,737C374,739.9 372.2,742.1 367.7,746.6C363.2,751.1 359.1,760.2 356,763.7C352.9,767.2 353.2,768.7 348.8,767.4C344.4,766.1 336.8,760.7 329.8,756C322.8,751.3 315.8,746.2 307,739C298.2,731.8 285.3,722 276.8,712.5C268.3,703 260.1,690.2 256,682C251.9,673.8 251.1,669.3 252,663C252.9,656.7 255,650.9 261.7,644C268.4,637.1 278.1,630.5 292,621.7C305.9,612.9 326.7,600.9 345,591.4C363.3,581.9 382.9,574.5 401.8,565C420.7,555.5 439,543.8 458.5,534.6C478,525.4 502.6,515.8 519,510C535.4,504.2 541.8,502.6 557,499.6C572.2,496.6 593.4,493 610,492C626.6,491 639.5,492.2 656.8,493.8C674.1,495.4 691.6,498.6 713.6,501.4C735.6,504.2 766.3,508.7 789,510.8C811.7,512.9 834.6,512.5 850,514C865.4,515.5 871,517.5 881.5,520C892,522.5 902.5,525.7 913,529C923.5,532.3 934.6,536.1 944.6,540C954.6,543.9 965.1,548.4 973,552.6C980.9,556.8 986.7,560.8 992,565C997.3,569.2 1000.9,573.6 1004.6,577.8C1008.3,582 1010.9,585.7 1014,590.4C1017.1,595.1 1020.3,600.2 1023.5,606C1026.7,611.8 1029.8,618.4 1033,625C1036.2,631.6 1038.4,636.9 1042.4,645.6C1046.4,654.3 1051.2,667.7 1056.8,677.4C1062.3,687.1 1068.8,695.7 1075.7,703.9C1082.6,712.1 1090.9,719.7 1098.4,726.6C1106,733.5 1114.1,739.2 1121,745.5C1127.9,751.8 1134.6,757.8 1140,764.4C1145.4,771 1149,776.6 1153.3,785C1157.6,793.4 1162.8,806 1166,815C1169.2,824 1172.4,829.4 1172.4,838.8C1172.4,848.2 1168.7,860.2 1166,871.6C1163.3,883 1159.3,893.6 1156,907C1152.7,920.4 1147.7,944.5 1146,952L1140,990L1105,990Z" fill="#80c01f"/>
<path d="M271,674.7C272.9,670.3 275.7,668.4 288,659.6C300.3,650.8 326,633.1 345,621.7C364,610.3 382.9,599.6 401.8,591.4C420.7,583.2 442.7,576.6 458.5,572.5C474.3,568.4 483.8,567.1 496.4,566.8C509,566.5 523.9,567.8 534,570.6C544.1,573.4 551,580.3 557,583.8C563,587.3 565.6,590.8 570,591.4C574.4,592 578.7,592.7 583.5,587.6C588.3,582.5 592.9,568.3 598.6,561C604.3,553.7 609.1,548.4 617.5,544C625.9,539.6 637.4,536.9 649,534.5C660.6,532.1 669.9,530.6 687,529.8C704.1,529 731.2,528.6 751.4,529.8C771.6,531 791.6,534 808,537C824.4,540 837.8,544.5 850,547.8C862.2,551.1 871,553.3 881.5,557C892,560.7 903.5,565.8 913,570C922.5,574.2 930.4,577.5 938.3,582.5C946.2,587.5 954.1,594.5 960.4,600C966.7,605.5 971.3,610.4 976,615.6C980.7,620.8 985.1,626.2 988.8,631.4C992.5,636.6 995.2,642.2 998,647C1000.8,651.8 1004.3,655.3 1005.7,660C1007.1,664.7 1007.6,669.9 1006.6,675C1005.6,680.1 1005.9,686.4 1000,690.6C994.1,694.8 984,697.1 971,700C958,702.9 939.5,704.5 921.8,707.7C904.1,710.9 884,715.5 865,719C846,722.5 826.9,726 808,728.5C789.1,731 767.1,733.8 751.4,734C735.7,734.2 725.8,733.3 713.6,730C701.4,726.7 688.1,719.3 678,714C667.9,708.7 662,702.8 652.8,698C643.5,693.2 631.8,688.1 622.5,685.4C613.2,682.7 607,681 597.3,681.6C587.6,682.2 576.3,685.8 564.5,689C552.7,692.2 540.6,697.6 526.7,700.6C512.8,703.6 493.6,704.2 481,706.9C468.4,709.6 460.2,715.3 451,717C441.8,718.7 434.1,718.7 425.7,717C417.3,715.3 408.9,710.7 400.5,706.9C392.1,703.1 384.2,696.9 375,694C365.8,691.1 356.3,690.2 345,689.8C333.7,689.4 318.4,692.3 307,691.7C295.6,691.1 282.8,688.8 276.8,686C270.8,683.2 269.1,679.1 271,674.7Z" fill="#5ab127"/>
<path d="M1043,772C1043,766.3 1044.7,760.4 1047.3,756.9C1049.9,753.4 1054,751.3 1058.7,751C1063.4,750.7 1069.7,752.2 1075.7,755C1081.7,757.8 1089.5,763.9 1094.6,768C1099.6,772.1 1102.5,774.1 1106,779.6C1109.5,785.1 1112.9,792.4 1115.6,801C1118.3,809.6 1121.2,822.2 1122,831C1122.8,839.8 1122.6,848.3 1120.7,854C1118.8,859.7 1114.4,863.8 1110.6,865C1106.8,866.2 1103.9,865.5 1098,861.5C1092.1,857.5 1081.7,849 1075,841C1068.3,833 1062.3,821.9 1057.6,813.6C1052.9,805.3 1049.4,797.9 1047,791C1044.6,784.1 1043,777.7 1043,772Z" fill="#5ab127"/>
<path d="M394,612C400.9,611.3 413.1,611.8 420.7,614C428.3,616.2 433.3,620.5 439.6,625.5C445.9,630.5 453.4,637.8 458.5,644C463.6,650.2 468.8,656.7 470,663C471.2,669.3 469.2,677.2 466,682C462.8,686.8 456,690.7 451,691.7C446,692.7 441.5,691.5 435.8,688C430.1,684.5 424.6,675.7 417,671C409.4,666.3 397.7,663.8 390.4,659.6C383.1,655.4 376.5,650.4 373.4,646C370.2,641.6 370.6,637.7 371.5,633C372.4,628.3 375.2,621.5 379,618C382.8,614.5 387.1,612.7 394,612Z" fill="#1f9636"/>
<path d="M728.7,639.6C728.1,634.5 728.7,630.1 732.5,624.4C736.3,618.7 743.2,610.2 751.4,605.5C759.6,600.8 770.3,598.2 781.7,596C793.1,593.8 809.6,592 819.6,592C829.6,592 834.6,594.3 842,596C849.4,597.7 857.4,600.3 864,602C870.6,603.7 875.4,603.7 881.5,606C887.6,608.3 894.8,611.9 900.5,615.6C906.2,619.3 911.8,623.8 916,628C920.2,632.2 923.6,636.8 925.7,641C927.9,645.2 929,649.3 928.9,653.5C928.8,657.7 928.1,662 925,666C921.9,670 916.6,674.9 910.4,677.4C904.2,679.9 895.3,681 887.7,681C880.1,681 872.6,679.9 865,677.4C857.4,674.9 849,669.5 842,666C835,662.5 831.8,657.3 823,656.6C814.2,655.9 800.9,660.8 789,662C777.1,663.2 760.2,665.2 751.4,664C742.6,662.8 739.8,658.8 736,654.7C732.2,650.6 729.3,644.7 728.7,639.6Z" fill="#1f9636"/>
<path d="M1251.7,618.7C1250.6,620.9 1246.5,626.6 1245,632C1243.5,637.4 1242.8,643.4 1243,650.9C1243.2,658.4 1243.9,667.5 1246,677C1248.1,686.5 1251.4,698.7 1255.5,707.6C1259.6,716.5 1265.3,723.5 1270.7,730.4C1276.1,737.3 1282,742.9 1287.7,749C1293.4,755.1 1298.8,760.7 1305,767C1311.2,773.3 1319.2,780.5 1325,787C1330.8,793.5 1336.2,799.5 1340,806C1343.8,812.5 1346.7,819.3 1347.8,826C1348.9,832.7 1348.2,837.5 1346.5,846C1344.8,854.5 1339.8,867.4 1337.7,876.7C1335.6,886 1334,893.6 1334,902C1334,910.4 1336.9,920 1337.7,927C1338.5,934 1338.8,941.2 1339,944L1345,1000L1550,1000L1550,550L1262,600Z" fill="#b5dd6f"/>
<path d="M1282,639.5C1281.5,642.6 1279,651.5 1279,658.4C1279,665.3 1279.9,673.7 1282,681C1284.1,688.3 1287.3,696.3 1291.5,702C1295.7,707.7 1301.8,710.5 1307.4,715C1313,719.5 1319.3,724.2 1325,729C1330.7,733.8 1335.4,737.9 1341.5,744C1347.6,750.1 1355.6,758.6 1361.7,765.6C1367.8,772.6 1373.4,779.1 1378,785.8C1382.6,792.5 1386.9,799.3 1389.4,806C1391.9,812.7 1392.8,818.4 1393,826C1393.2,833.6 1392.4,842.9 1390.7,851.4C1389,859.9 1385,868.3 1383,876.7C1381,885.1 1379.7,894.6 1379,902C1378.3,909.4 1379,917.8 1379,921L1385,1000L1550,1000L1550,600L1290,620Z" fill="#cde752"/>
<path d="M852,411C856,413.1 866.1,419.5 876,423.7C885.9,427.9 901.4,433.5 911.5,436C921.6,438.5 927.9,439 936.7,438.8C945.5,438.6 955.7,436.9 964.5,435C973.3,433.1 982,430.6 989.7,427.4C997.5,424.2 1007.5,417.9 1011,416L1040,400L1040,340L840,340L840,400Z" fill="#b5dd6f"/>
<path d="M417,840C417.2,836.1 415.7,823.5 418,816.7C420.3,809.9 425.3,803 430.8,799C436.3,795 444.7,793.1 451,792.7C457.3,792.3 461.5,793.4 468.6,796.5C475.7,799.6 489.6,809.1 493.8,811.6L500,850L420,870Z" fill="#b5dd6f"/>
<path d="M97,714.5C100.5,717.3 109.4,722.4 117.9,731.5C126.4,740.6 139.8,756.8 148,769C156.2,781.2 163.8,799 167,805L150,830L60,760L80,710Z" fill="#cfe8a0"/>
<path d="M517.9,150.4C519.2,151.7 523.5,155.5 526,158C528.5,160.5 531.8,164.2 533,165.5L537,164.5L545.6,164.5L555.7,168.5L565.8,173.5L576,173.5L587,177.4L597,183.5L602.4,185.5L625,195L625,100L515,100Z" fill="#fffdd2"/>
<g mask="url(#lm1)" fill="none" stroke="#111a08" stroke-width="2">
<path d="M345,295C347.8,293.8 356.5,291.4 362,287.6C367.5,283.8 373.3,278.3 378,272C382.7,265.7 387.1,256.5 390.4,249.8C393.7,243.1 396.7,235 398,232"/>
<path d="M517.9,150.4C519.2,151.7 523.5,155.5 526,158C528.5,160.5 531.8,164.2 533,165.5"/>
<path d="M333.6,333C339.3,330.5 357.6,324.9 367.7,318C377.8,311.1 387.1,299.6 394,291.4C400.9,283.2 404.2,275.6 409,268.7C413.8,261.8 419.7,256.8 422.6,249.8C425.5,242.9 425.3,235.1 426.4,227C427.5,218.9 428.6,205.3 429,201"/>
<path d="M486.3,151.6C488.4,154.1 494.8,162.4 499,166.8C503.2,171.2 506.7,174.6 511.5,178C516.3,181.4 522.8,184.4 528,187C533.2,189.6 540.5,192.2 543,193.3"/>
<path d="M316.6,356.5C321.3,356.1 335.3,356.5 345,353.9C354.7,351.2 364.9,347.2 375,340.6C385.1,334 396.7,323.5 405.5,314C414.3,304.5 421.7,294.5 428,283.8C434.3,273.1 438.3,259.6 443.4,249.8C448.5,240 453.1,231.3 458.5,225C463.9,218.7 469.5,215.6 475.6,212C481.7,208.4 490.1,205.1 495,203.4C499.9,201.7 500.2,201.2 505,202C509.8,202.8 518.1,206.7 524,208.4C529.9,210.1 535.3,211.6 540.6,212C545.9,212.4 551.3,211.7 555.7,211C560.1,210.3 565.1,208.3 567,207.8"/>
<path d="M218,422C223.3,420.1 235.2,416.1 250,410.7C264.8,405.3 288,395.8 307,389.8C326,383.8 348.2,381 364,374.7C379.8,368.4 390.5,361.4 401.8,352C413.1,342.6 423.2,329.4 432,318C440.8,306.6 447.9,292.6 454.8,283.8C461.8,275 467.7,272 473.7,265C479.7,258 485.5,246.8 490.7,242C495.9,237.2 498.4,237.6 505,236C511.6,234.4 522,233.1 530.5,232.4C539,231.7 548.4,232.4 555.7,231.8C563.1,231.2 570.2,230 574.6,228.6C579,227.2 580.8,224.4 582,223.6"/>
<path d="M117,570C123.3,565.8 142.2,553.6 155,545C167.8,536.4 174.6,532.4 193.6,518.5C212.6,504.6 243.8,478.2 269,461.8C294.2,445.4 322.9,432.6 345,420C367.1,407.4 385.4,398.7 401.8,386C418.2,373.3 433.9,354.1 443.4,344C452.8,333.9 453.4,332.4 458.5,325.5C463.6,318.6 467.4,311.6 473.7,302.8C480,294 487.3,279.6 496.4,272.5C505.4,265.4 518.1,263.8 528,260C537.9,256.2 546.9,252.9 555.7,250C564.5,247.1 573.2,245 581,242.5C588.8,240 598.8,236.2 602.4,235"/>
<path d="M247,838.5C244.4,833.9 239.1,821.9 231.4,811C223.7,800.1 212.3,787.5 201,773C189.7,758.5 173.1,740.3 163.3,723.9C153.6,707.5 146.3,688 142.5,674.7C138.7,661.4 138.4,654.1 140.6,644C142.8,633.9 146.9,624 155.7,614C164.5,604 177.9,597 193.6,583.8C209.3,570.6 231.1,550.4 250,534.6C268.9,518.8 286.2,502.3 307,489C327.8,475.7 360.2,462.7 375,455C389.8,447.3 389.7,446.9 396,443C402.3,439.1 402.6,439.1 413,431.5C423.4,423.9 445.2,410.6 458.5,397.4C471.8,384.1 483.1,365.2 492.6,352C502.1,338.8 505.3,328.7 515.4,318C525.5,307.3 537.2,297.1 553,287.6C568.8,278.1 596.9,267.5 610,261C623.1,254.5 626.1,253.1 631.4,248.8C636.6,244.5 639.8,237.3 641.5,235"/>
<path d="M263.6,843C262.7,838.9 261.5,827.7 258,818.5C254.5,809.3 250.4,800.6 242.8,788C235.2,775.4 222.6,757.9 212.5,742.8C202.4,727.7 189.2,711.3 182,697.4C174.8,683.5 170.6,670.3 169,659.6C167.4,648.9 167.4,642.5 172.7,633C178,623.5 188.1,614.1 201,602.8C213.9,591.5 232.3,578.3 250,565C267.7,551.7 288,534.4 307,523C326,511.6 346.9,505.1 364,496.8C381.1,488.5 398.6,478.8 409.3,473C420,467.2 421.7,466.8 428,461.8C434.3,456.8 436.9,451 447,442.8C457.1,434.6 476.1,425.2 488.8,412.6C501.5,400 512.3,380.9 523,367C533.7,353.1 541.7,340.3 553,329C564.3,317.7 575.2,309.1 591,299C606.8,288.9 633,276.6 647.8,268.7C662.6,260.8 673.2,254.8 680,251.7C686.8,248.6 687.2,250.3 688.6,250"/>
<path d="M601,334C600.6,335.1 601.5,336.3 598.6,340.6C595.7,344.9 587.3,350.1 583.5,359.6C579.7,369.1 578.6,386 576,397.4C573.4,408.8 572.4,418.3 568,427.7C563.6,437.1 557.6,446.4 549.4,454C541.2,461.6 527.2,468.2 519,473C510.8,477.8 506.3,479.1 500,482.6C493.7,486.1 494.2,487.8 481,494C467.8,500.2 440.2,509.8 420.7,520C401.2,530.2 382.9,543.7 364,555C345.1,566.3 324.1,576.5 307,587.6C289.9,598.7 273,612.3 261.7,621.7C250.4,631.1 244.1,636.5 239,644C233.9,651.5 232.1,659.3 231.4,667C230.7,674.7 231.9,681.2 235,690C238.1,698.8 242.4,708.7 250,720C257.6,731.3 271.1,746.7 280.6,758C290.1,769.3 299.4,779.2 307,788C314.6,796.8 320.3,804 326,811C331.7,818 337.5,826.3 341,830C344.5,833.7 345.1,833 347,833C348.9,833 349.2,835 352.6,830C356.1,825 362.7,811.2 367.7,803C372.7,794.8 377.1,787.6 382.8,780.7C388.5,773.8 394.7,767.2 401.8,761.8C408.9,756.4 413.3,752 425.7,748.5C438.1,745 459.2,741.9 476,741C492.8,740.1 509.9,741.3 526.7,743C543.5,744.7 560.2,747.5 577,751C593.8,754.5 612.9,758.2 627.6,763.7C642.4,769.2 659.2,780.4 665.5,783.8"/>
<path d="M788,808.5C792.3,806 803,798.9 813.6,793.4C824.2,787.9 838.8,779.5 851.4,775.7C864,771.9 876.4,770.7 889,770.7C901.6,770.7 916.4,773.2 927,775.7C937.6,778.2 944,781.2 952.4,785.8C960.8,790.4 970,796.8 977.6,803.5C985.2,810.2 991.9,817.2 997.8,826C1003.7,834.8 1008,844.7 1013,856.5C1018,868.3 1023.4,885 1028,897C1032.6,909 1038.6,923.2 1040.7,928.4"/>
<path d="M1176,945C1176.5,941.2 1176.6,931.3 1178.7,922C1180.8,912.7 1185.4,899.9 1188.8,889C1192.2,878.1 1196.3,867 1199,856.5C1201.7,846 1204.3,835.4 1205,826C1205.7,816.6 1205,807.7 1203,800C1201,792.3 1196.5,786.6 1193,780C1189.5,773.4 1185.5,766 1181.7,760.6C1177.9,755.2 1175.5,752.4 1170.4,747.4C1165.4,742.4 1158.4,737 1151.4,730.4C1144.5,723.8 1136.3,715.8 1128.7,707.6C1121.1,699.4 1112.5,689.3 1106,681C1099.5,672.7 1094.5,665.2 1089.7,658C1084.9,650.8 1080.7,645 1077,637.7C1073.3,630.4 1070.9,621.9 1067.7,614C1064.5,606.1 1061.2,597.7 1058,590.4C1054.8,583.1 1052.4,576.3 1048.7,570C1045,563.7 1041.3,558.1 1036,552.6C1030.7,547.1 1024.3,541.8 1017,536.8C1009.7,531.8 1001.4,527.3 992,522.6C982.6,517.9 971.5,512.6 960.4,508.4C949.3,504.2 935.8,500.5 925.6,497.6C915.4,494.7 912.3,492.6 899,491C885.7,489.4 864.3,489.7 846,488C827.7,486.3 809.2,483.8 789,480.6C768.8,477.4 735.7,470.9 725,469"/>
<path d="M655.4,360C656.7,366.2 660.5,384.8 663,397C665.5,409.2 669.2,427 670.5,433"/>
<path d="M1100,957C1096.4,950.3 1086.3,930.4 1078.5,917C1070.7,903.6 1060.6,888.5 1053,876.7C1045.4,864.9 1038.8,856.5 1033,846C1027.2,835.5 1023,823.3 1018,813.6C1013,803.9 1009.5,796 1002.8,788C996.1,780 986,771.6 977.6,765.6C969.2,759.6 960.8,755.3 952.4,751.7C944,748.1 935.4,745.3 927,744C918.6,742.7 914.6,742.3 902,744C889.4,745.7 868.2,750 851.4,754C834.6,758 815.7,764.8 801,768C786.3,771.2 774,772.6 763,773C752,773.4 742.8,772 735,770.5C727.2,769 723.4,767.4 716,763.7C708.6,760 701.2,754 690.7,748.5C680.2,743 665.4,735.7 652.8,730.9C640.2,726.1 631.8,721.6 615,719.5C598.2,717.4 575.2,717.8 552,718C528.8,718.2 497.9,719 476,720.8C454.1,722.6 436.2,726.3 420.7,729C405.2,731.7 391.6,734.1 382.8,737C374,739.9 372.2,742.1 367.7,746.6C363.2,751.1 359.1,760.2 356,763.7C352.9,767.2 353.2,768.7 348.8,767.4C344.4,766.1 336.8,760.7 329.8,756C322.8,751.3 315.8,746.2 307,739C298.2,731.8 285.3,722 276.8,712.5C268.3,703 260.1,690.2 256,682C251.9,673.8 251.1,669.3 252,663C252.9,656.7 255,650.9 261.7,644C268.4,637.1 278.1,630.5 292,621.7C305.9,612.9 326.7,600.9 345,591.4C363.3,581.9 382.9,574.5 401.8,565C420.7,555.5 439,543.8 458.5,534.6C478,525.4 502.6,515.8 519,510C535.4,504.2 541.8,502.6 557,499.6C572.2,496.6 593.4,493 610,492C626.6,491 639.5,492.2 656.8,493.8C674.1,495.4 691.6,498.6 713.6,501.4C735.6,504.2 766.3,508.7 789,510.8C811.7,512.9 834.6,512.5 850,514C865.4,515.5 871,517.5 881.5,520C892,522.5 902.5,525.7 913,529C923.5,532.3 934.6,536.1 944.6,540C954.6,543.9 965.1,548.4 973,552.6C980.9,556.8 986.7,560.8 992,565C997.3,569.2 1000.9,573.6 1004.6,577.8C1008.3,582 1010.9,585.7 1014,590.4C1017.1,595.1 1020.3,600.2 1023.5,606C1026.7,611.8 1029.8,618.4 1033,625C1036.2,631.6 1038.4,636.9 1042.4,645.6C1046.4,654.3 1051.2,667.7 1056.8,677.4C1062.3,687.1 1068.8,695.7 1075.7,703.9C1082.6,712.1 1090.9,719.7 1098.4,726.6C1106,733.5 1114.1,739.2 1121,745.5C1127.9,751.8 1134.6,757.8 1140,764.4C1145.4,771 1149,776.6 1153.3,785C1157.6,793.4 1162.8,806 1166,815C1169.2,824 1172.4,829.4 1172.4,838.8C1172.4,848.2 1168.7,860.2 1166,871.6C1163.3,883 1159.3,893.6 1156,907C1152.7,920.4 1147.7,944.5 1146,952"/>
<path d="M271,674.7C272.9,670.3 275.7,668.4 288,659.6C300.3,650.8 326,633.1 345,621.7C364,610.3 382.9,599.6 401.8,591.4C420.7,583.2 442.7,576.6 458.5,572.5C474.3,568.4 483.8,567.1 496.4,566.8C509,566.5 523.9,567.8 534,570.6C544.1,573.4 551,580.3 557,583.8C563,587.3 565.6,590.8 570,591.4C574.4,592 578.7,592.7 583.5,587.6C588.3,582.5 592.9,568.3 598.6,561C604.3,553.7 609.1,548.4 617.5,544C625.9,539.6 637.4,536.9 649,534.5C660.6,532.1 669.9,530.6 687,529.8C704.1,529 731.2,528.6 751.4,529.8C771.6,531 791.6,534 808,537C824.4,540 837.8,544.5 850,547.8C862.2,551.1 871,553.3 881.5,557C892,560.7 903.5,565.8 913,570C922.5,574.2 930.4,577.5 938.3,582.5C946.2,587.5 954.1,594.5 960.4,600C966.7,605.5 971.3,610.4 976,615.6C980.7,620.8 985.1,626.2 988.8,631.4C992.5,636.6 995.2,642.2 998,647C1000.8,651.8 1004.3,655.3 1005.7,660C1007.1,664.7 1007.6,669.9 1006.6,675C1005.6,680.1 1005.9,686.4 1000,690.6C994.1,694.8 984,697.1 971,700C958,702.9 939.5,704.5 921.8,707.7C904.1,710.9 884,715.5 865,719C846,722.5 826.9,726 808,728.5C789.1,731 767.1,733.8 751.4,734C735.7,734.2 725.8,733.3 713.6,730C701.4,726.7 688.1,719.3 678,714C667.9,708.7 662,702.8 652.8,698C643.5,693.2 631.8,688.1 622.5,685.4C613.2,682.7 607,681 597.3,681.6C587.6,682.2 576.3,685.8 564.5,689C552.7,692.2 540.6,697.6 526.7,700.6C512.8,703.6 493.6,704.2 481,706.9C468.4,709.6 460.2,715.3 451,717C441.8,718.7 434.1,718.7 425.7,717C417.3,715.3 408.9,710.7 400.5,706.9C392.1,703.1 384.2,696.9 375,694C365.8,691.1 356.3,690.2 345,689.8C333.7,689.4 318.4,692.3 307,691.7C295.6,691.1 282.8,688.8 276.8,686C270.8,683.2 269.1,679.1 271,674.7Z"/>
<path d="M1043,772C1043,766.3 1044.7,760.4 1047.3,756.9C1049.9,753.4 1054,751.3 1058.7,751C1063.4,750.7 1069.7,752.2 1075.7,755C1081.7,757.8 1089.5,763.9 1094.6,768C1099.6,772.1 1102.5,774.1 1106,779.6C1109.5,785.1 1112.9,792.4 1115.6,801C1118.3,809.6 1121.2,822.2 1122,831C1122.8,839.8 1122.6,848.3 1120.7,854C1118.8,859.7 1114.4,863.8 1110.6,865C1106.8,866.2 1103.9,865.5 1098,861.5C1092.1,857.5 1081.7,849 1075,841C1068.3,833 1062.3,821.9 1057.6,813.6C1052.9,805.3 1049.4,797.9 1047,791C1044.6,784.1 1043,777.7 1043,772Z"/>
<path d="M394,612C400.9,611.3 413.1,611.8 420.7,614C428.3,616.2 433.3,620.5 439.6,625.5C445.9,630.5 453.4,637.8 458.5,644C463.6,650.2 468.8,656.7 470,663C471.2,669.3 469.2,677.2 466,682C462.8,686.8 456,690.7 451,691.7C446,692.7 441.5,691.5 435.8,688C430.1,684.5 424.6,675.7 417,671C409.4,666.3 397.7,663.8 390.4,659.6C383.1,655.4 376.5,650.4 373.4,646C370.2,641.6 370.6,637.7 371.5,633C372.4,628.3 375.2,621.5 379,618C382.8,614.5 387.1,612.7 394,612Z"/>
<path d="M728.7,639.6C728.1,634.5 728.7,630.1 732.5,624.4C736.3,618.7 743.2,610.2 751.4,605.5C759.6,600.8 770.3,598.2 781.7,596C793.1,593.8 809.6,592 819.6,592C829.6,592 834.6,594.3 842,596C849.4,597.7 857.4,600.3 864,602C870.6,603.7 875.4,603.7 881.5,606C887.6,608.3 894.8,611.9 900.5,615.6C906.2,619.3 911.8,623.8 916,628C920.2,632.2 923.6,636.8 925.7,641C927.9,645.2 929,649.3 928.9,653.5C928.8,657.7 928.1,662 925,666C921.9,670 916.6,674.9 910.4,677.4C904.2,679.9 895.3,681 887.7,681C880.1,681 872.6,679.9 865,677.4C857.4,674.9 849,669.5 842,666C835,662.5 831.8,657.3 823,656.6C814.2,655.9 800.9,660.8 789,662C777.1,663.2 760.2,665.2 751.4,664C742.6,662.8 739.8,658.8 736,654.7C732.2,650.6 729.3,644.7 728.7,639.6Z"/>
<path d="M1251.7,618.7C1250.6,620.9 1246.5,626.6 1245,632C1243.5,637.4 1242.8,643.4 1243,650.9C1243.2,658.4 1243.9,667.5 1246,677C1248.1,686.5 1251.4,698.7 1255.5,707.6C1259.6,716.5 1265.3,723.5 1270.7,730.4C1276.1,737.3 1282,742.9 1287.7,749C1293.4,755.1 1298.8,760.7 1305,767C1311.2,773.3 1319.2,780.5 1325,787C1330.8,793.5 1336.2,799.5 1340,806C1343.8,812.5 1346.7,819.3 1347.8,826C1348.9,832.7 1348.2,837.5 1346.5,846C1344.8,854.5 1339.8,867.4 1337.7,876.7C1335.6,886 1334,893.6 1334,902C1334,910.4 1336.9,920 1337.7,927C1338.5,934 1338.8,941.2 1339,944"/>
<path d="M1282,639.5C1281.5,642.6 1279,651.5 1279,658.4C1279,665.3 1279.9,673.7 1282,681C1284.1,688.3 1287.3,696.3 1291.5,702C1295.7,707.7 1301.8,710.5 1307.4,715C1313,719.5 1319.3,724.2 1325,729C1330.7,733.8 1335.4,737.9 1341.5,744C1347.6,750.1 1355.6,758.6 1361.7,765.6C1367.8,772.6 1373.4,779.1 1378,785.8C1382.6,792.5 1386.9,799.3 1389.4,806C1391.9,812.7 1392.8,818.4 1393,826C1393.2,833.6 1392.4,842.9 1390.7,851.4C1389,859.9 1385,868.3 1383,876.7C1381,885.1 1379.7,894.6 1379,902C1378.3,909.4 1379,917.8 1379,921"/>
<path d="M852,411C856,413.1 866.1,419.5 876,423.7C885.9,427.9 901.4,433.5 911.5,436C921.6,438.5 927.9,439 936.7,438.8C945.5,438.6 955.7,436.9 964.5,435C973.3,433.1 982,430.6 989.7,427.4C997.5,424.2 1007.5,417.9 1011,416"/>
<path d="M417,840C417.2,836.1 415.7,823.5 418,816.7C420.3,809.9 425.3,803 430.8,799C436.3,795 444.7,793.1 451,792.7C457.3,792.3 461.5,793.4 468.6,796.5C475.7,799.6 489.6,809.1 493.8,811.6"/>
<path d="M97,714.5C100.5,717.3 109.4,722.4 117.9,731.5C126.4,740.6 139.8,756.8 148,769C156.2,781.2 163.8,799 167,805"/>
</g>
</g>
<use href="#coast" fill="none" stroke="#1b5b96" stroke-width="2" stroke-linejoin="round"/>
<path d="M522,191.4C523,197 526,201 530.5,203.4C538,206 548,210 555.7,211.6M562,214.7L577,222M616,238L631.4,244.4" fill="none" stroke="#1b5b96" stroke-width="1.6"/>
<path d="M971.5,372L980,361.5" fill="none" stroke="#1b5b96" stroke-width="2.6" stroke-linecap="round"/>
<g font-family="'Liberation Sans',sans-serif" font-size="20" text-anchor="middle" fill="#000" stroke="#000" stroke-width="0.7">
<text transform="translate(376,270) rotate(-52)" y="7.1" textLength="34.5" lengthAdjust="spacingAndGlyphs">12,0</text>
<text transform="translate(408,268) rotate(-57)" y="7.1" textLength="34.5" lengthAdjust="spacingAndGlyphs">13,0</text>
<text transform="translate(476,212) rotate(-38)" y="7.1" textLength="34.5" lengthAdjust="spacingAndGlyphs">14,0</text>
<text transform="translate(474,264) rotate(-52)" y="7.1" textLength="34.5" lengthAdjust="spacingAndGlyphs">15,0</text>
<text transform="translate(458,325) rotate(-55)" y="7.1" textLength="34.5" lengthAdjust="spacingAndGlyphs">16,0</text>
<text transform="translate(396,443) rotate(-33)" y="7.1" textLength="34.5" lengthAdjust="spacingAndGlyphs">17,0</text>
<text transform="translate(428,462) rotate(-33)" y="7.1" textLength="34.5" lengthAdjust="spacingAndGlyphs">17,5</text>
<text transform="translate(500,483) rotate(-27)" y="7.1" textLength="34.5" lengthAdjust="spacingAndGlyphs">18,0</text>
<text transform="translate(537,505) rotate(-15)" y="7.1" textLength="34.5" lengthAdjust="spacingAndGlyphs">18,1</text>
<text transform="translate(668,534) rotate(-8)" y="7.1" textLength="34.5" lengthAdjust="spacingAndGlyphs">18,2</text>
<text transform="translate(440,626) rotate(38)" y="7.1" textLength="34.5" lengthAdjust="spacingAndGlyphs">18,3</text>
<text transform="translate(842,597) rotate(8)" y="7.1" textLength="34.5" lengthAdjust="spacingAndGlyphs" font-style="italic">18,3</text>
<text transform="translate(937,439) rotate(0)" y="7.1" textLength="34.5" lengthAdjust="spacingAndGlyphs">17,5</text>
<text transform="translate(899,491) rotate(5)" y="7.1" textLength="34.5" lengthAdjust="spacingAndGlyphs" font-style="italic">18,0</text>
<text transform="translate(1305,767) rotate(50)" y="7.1" textLength="34.5" lengthAdjust="spacingAndGlyphs">17,5</text>
<text transform="translate(1341,744) rotate(48)" y="7.1" textLength="34.5" lengthAdjust="spacingAndGlyphs">17,0</text>
</g>
<circle cx="457" cy="159.5" r="4.6" fill="#fff" stroke="#000" stroke-width="2"/>
<circle cx="677.6" cy="438" r="4.6" fill="#fff" stroke="#000" stroke-width="2"/>
<circle cx="1071.8" cy="452" r="4.6" fill="#fff" stroke="#000" stroke-width="2"/>
<circle cx="1193.9" cy="539" r="4.6" fill="#fff" stroke="#000" stroke-width="2"/>
<circle cx="1249.4" cy="607" r="4.6" fill="#fff" stroke="#000" stroke-width="2"/>
<circle cx="1442" cy="875.4" r="4.6" fill="#fff" stroke="#000" stroke-width="2"/>
<circle cx="775.7" cy="788.8" r="4.6" fill="#fff" stroke="#000" stroke-width="2"/>
<circle cx="128.2" cy="531.3" r="4.6" fill="#fff" stroke="#000" stroke-width="2"/>
</g>
<g transform="translate(27,1030)">
<g clip-path="url(#sea)">
<rect x="0" y="80" width="1500" height="920" fill="#e6f4cd"/>
<path d="M334,305.5C338.4,302.9 353.1,297.6 360.7,290C368.3,282.4 375.2,269.4 379.6,260C384,250.6 385.8,238 387,233.6L389,210L389,60L1673,60L1673,1010L-127,1010L-127,306L323,306Z" fill="#e3ef7b"/>
<path d="M321,351C327.6,347.8 348.4,340.8 360.7,332C373,323.2 386,311.2 394.8,298C403.6,284.8 407.4,265.2 413.7,252.5C420,239.8 425.7,229.2 432.6,222C439.5,214.8 448.1,212.8 455,209C461.9,205.2 467,204.2 474,199.5C481,194.8 490.7,186.9 497,180.6C503.3,174.3 507.6,167.6 512,161.6C516.4,155.6 521.6,147.4 523.5,144.6L524,130L524,60L1673,60L1673,1010L-127,1010L-127,354L313,354Z" fill="#cfe8a0"/>
<path d="M226.3,399.4C235.4,397.6 262.4,394.4 281,388.8C299.6,383.2 320.9,374.8 338,366C355.1,357.2 370.8,347.1 383.4,335.8C396,324.5 404.9,310 413.7,298C422.5,286 428.8,272 436.4,263.8C443.9,255.6 451.4,253.7 459,248.7C466.6,243.7 470.5,239 481.8,233.6C493.1,228.2 512.5,221.1 527,216.5C541.5,211.9 562,207.8 569,206L573,203L618,195L635,120L635,60L1673,60L1673,1010L-127,1010L-127,400Z" fill="#cde752"/>
<path d="M207.4,464.5C213.3,462.6 227.6,459.9 243,453C258.4,446.1 281,434.1 300,422.8C319,411.5 340.6,397.6 357,385C373.4,372.4 386.5,359.7 398.5,347C410.5,334.3 419.4,319.7 428.8,309C438.2,298.3 444.9,289.7 455,282.8C465.1,275.9 480.6,271.1 489.4,267.6C498.2,264.1 501.1,263.9 508,262C514.9,260.1 519.6,258.8 531,256C542.4,253.2 562.7,248.7 576.5,245C590.3,241.3 607.8,235.5 614,233.6L618,225L653,60L1673,60L1673,1010L-127,1010L-127,465Z" fill="#b5dd6f"/>
<path d="M126,545.9C132.9,545.3 151.2,546.1 167.6,542C184,537.9 202.3,533.3 224.4,521C246.5,508.7 274.8,485 300,468C325.2,451 353.7,432.8 375.8,419C397.9,405.2 416.8,395.7 432.6,385C448.4,374.3 459.8,362.6 470.5,354.7C481.2,346.8 488.8,342.2 497,337.7C505.2,333.3 512.8,330.2 519.7,328C526.6,325.8 531.7,325.4 538.6,324.5C545.5,323.6 553.4,322.8 561,322.5C568.6,322.2 578,322.2 584,322.5C590,322.8 594.8,324.1 597,324.4L613,321L673,308L733,315L773,330L873,340L973,342L1073,340L1673,60L1673,1010L-127,1010L-127,546Z" fill="#b6d916"/>
<path d="M855,398C855.3,399.5 854.8,404.7 857,406.8C859.2,408.9 863,410.6 868,410.6C873,410.6 882.8,408.4 887,406.8C891.2,405.2 892,402 893,401L898,390L873,375L853,385Z" fill="#b5dd6f"/>
<path d="M1339.4,681C1343.2,684.5 1356.6,694.5 1362,701.7C1367.4,708.9 1369.6,715.9 1371.6,724.4C1373.6,732.9 1373.1,742.7 1374,752.8C1374.9,762.9 1377.4,773.3 1377,785C1376.6,796.7 1374.1,810.2 1371.6,822.8C1369.1,835.4 1366.8,846.8 1362,860.7C1357.2,874.6 1349.3,890.9 1343,906C1336.7,921.1 1327.2,943.9 1324,951.5L1324,1000L1523,1000L1523,570L1343,660Z" fill="#b5dd6f"/>
<path d="M147.4,790C151.5,790.3 164.1,790.3 172,791.8C179.9,793.3 187.8,795.5 194.7,799C201.6,802.5 208.9,807.8 213.6,812.6C218.3,817.4 221.4,825.2 223,827.7L218,850L133,810Z" fill="#b5dd6f"/>
<path d="M304.5,841C308.2,837.2 318.8,825 327,818C335.2,811 342.9,805.3 353.7,799C364.4,792.7 377.3,785.2 391.5,780C405.7,774.8 426.3,770.8 438.9,768C451.5,765.2 456,763.9 467,763.4C478,762.9 492.3,762.8 505,765C517.7,767.2 533.5,772.8 543,776.6C552.5,780.4 558.8,786.1 562,788L563,820L313,870Z" fill="#b5dd6f"/>
<path d="M340.4,860C343.9,856.2 352.8,843.7 361.3,837C369.8,830.3 381.4,823.8 391.5,820C401.6,816.2 413,815.2 421.8,814.5C430.6,813.8 438.5,814.1 444.5,816C450.5,817.9 455.6,824.2 457.8,825.8L458,850L343,880Z" fill="#cde752"/>
<path d="M119,568C126.6,567.1 150.6,565.8 164.4,562.7C178.2,559.6 188.9,555.8 202,549.5C215.1,543.2 226.7,536.1 243,525C259.3,513.9 277.9,498.2 300,483C322.1,467.8 353.7,447.8 375.8,434C397.9,420.2 417.5,408.8 432.6,400C447.8,391.2 458.5,385.2 466.7,381C474.9,376.8 476.1,378.2 481.8,375C487.5,371.8 493.2,366 500.7,362C508.2,358 516.3,353.5 527,351C537.7,348.5 552.3,346.7 565,347C577.7,347.3 590.4,350.3 603,352.8C615.6,355.3 627.5,358.4 640.8,362C654.1,365.6 675.8,372.5 682.8,374.6L703,390L733,410L773,410L815,415L815,425.7C818.8,427.6 829.2,434.3 838,437C846.8,439.7 857.6,442.5 868,442C878.4,441.5 890.9,437 900.4,434C909.9,431 916.5,426.5 925,423.8C933.5,421.1 943.3,418 951.5,418C959.7,418 965.8,420 974,423.8C982.2,427.6 991.9,434.8 1000.7,440.8C1009.5,446.8 1016.3,453.5 1027,459.8C1037.7,466.1 1052.7,474 1065,478.7C1077.3,483.4 1095,486.4 1101,488L1133,490L1253,590L1242.9,609C1243.8,612.5 1245.7,623.2 1248.5,629.8C1251.3,636.4 1255.9,643 1260,648.7C1264.1,654.4 1268.6,658.8 1273,663.8C1277.4,668.8 1279.7,672.7 1286.4,679C1293.1,685.3 1305.4,694.1 1313,701.7C1320.6,709.3 1326.5,716.9 1331.8,724.4C1337.1,732 1341.8,738.2 1345,747C1348.2,755.8 1350.1,767.3 1350.8,777.4C1351.5,787.5 1350.5,797 1348.9,807.7C1347.3,818.4 1344.5,829.8 1341,841.8C1337.5,853.8 1333.3,866.4 1328,879.6C1322.7,892.8 1315.9,907.1 1309,921C1302.1,934.9 1290.2,956 1286.4,963L1223,1000L1161.5,944C1160.2,941.5 1157.8,933.8 1154,928.8C1150.2,923.8 1145.8,918.2 1138.8,913.7C1131.8,909.2 1122.7,905.1 1112,902C1101.3,898.9 1087,897 1074.4,894.8C1061.8,892.6 1049.2,891.2 1036.6,889C1024,886.8 1011.3,884.3 998.7,881.5C986.1,878.7 973.5,874.5 960.9,872C948.3,869.5 935.3,866.9 923,866.5C910.7,866.1 893,869.1 887,869.6L868,870L856.7,843C855.1,841.1 853.2,836.7 847.2,831.7C841.2,826.7 829.6,818.8 820.7,812.8C811.8,806.8 798.5,798.6 794,795.7L783,802L771.5,784.4C770.2,782.8 768.4,778.5 764,775C759.6,771.5 752.6,766.8 745,763.6C737.4,760.4 726.6,757.4 718.5,756C710.4,754.6 703.1,754.8 696.5,755C689.9,755.2 687,756.2 678.7,757C670.4,757.8 661.4,759 646.6,759.8C631.8,760.6 605.4,761.8 589.8,761.7C574.2,761.6 564,760.3 553,759C542,757.7 538.3,755.2 524,754C509.7,752.8 484,751.4 467,752C450,752.6 437.5,754.2 421.8,757.7C406.1,761.2 387.1,767.1 372.6,772.8C358.1,778.5 345.5,785.5 334.8,791.8C324.1,798.1 315.9,804.7 308.3,810.7C300.7,816.7 295.6,824.9 289.3,827.7C283,830.5 277.3,829.3 270.4,827.7C263.5,826.1 255.9,822.8 247.7,818C239.5,813.2 230,804.7 221.2,799C212.4,793.3 204.2,787.4 194.7,784C185.2,780.6 174.5,779.2 164.4,778.5C154.3,777.8 139.1,779.8 134,780L73,770L33,670L73,570Z" fill="#9ccd1b"/>
<path d="M113.3,587C121.8,586.1 146.4,586.1 164.4,581.7C182.4,577.3 202.3,569.3 221.2,560.8C240.1,552.3 261.7,541.6 278,530.6C294.3,519.6 302.7,507.3 319,495C335.3,482.7 357.5,467.2 375.8,457C394.1,446.8 416.8,439.4 428.8,434C440.8,428.6 441.5,428.2 447.8,424.7C454.1,421.2 459.8,417.8 466.7,413C473.6,408.2 480.6,401.7 489.4,396C498.2,390.3 510.3,382.4 519.7,379C529.1,375.6 537.2,375.2 546,375.5C554.8,375.8 565.1,377.6 572.7,381C580.3,384.4 585.2,389.8 591.6,396C598,402.2 603.3,411.2 610.9,418C618.5,424.8 627.9,432.2 637.4,437C646.9,441.8 662.6,444.9 667.6,446.5L693,440L733,420L760,432L760.4,442.7C764.5,444.9 775.2,452.5 785,456C794.8,459.5 803.9,461.8 819,463.6C834.1,465.4 856.9,467 875.8,467C894.7,467 916.8,463.8 932.6,463.6C948.4,463.3 957.9,463.6 970.5,465.5C983.1,467.4 996.6,470.2 1008,475C1019.4,479.8 1029.8,486.5 1038.6,494C1047.4,501.5 1054.7,510.6 1061,520C1067.3,529.4 1070.8,539.8 1076.5,550.6C1082.2,561.4 1088.5,575.2 1095.4,584.7C1102.3,594.2 1110.4,602 1118,607.4C1125.6,612.8 1133.5,613.9 1140.8,617C1148,620.1 1154.3,622.9 1161.5,626C1168.7,629.1 1175.8,631.7 1184,635.5C1192.2,639.3 1202.5,642.1 1210.7,648.7C1218.9,655.3 1224.6,666.2 1233.4,675C1242.2,683.8 1253.6,692.2 1263.7,701.7C1273.8,711.2 1285.8,722.5 1294,732C1302.2,741.5 1308.6,749.7 1313,758.5C1317.4,767.3 1319.6,775.6 1320.5,785C1321.4,794.4 1320.5,804.3 1318.6,815C1316.7,825.7 1313.1,837 1309,849C1304.9,861 1299,875.6 1294,887C1289,898.4 1282.6,909.3 1278.8,917.5C1275,925.7 1272.9,930.2 1271.3,936.4C1269.7,942.7 1269.7,951.9 1269.4,955L1263,1000L1213,1000L1203,944C1201.8,940.8 1199.4,930.7 1195.6,925C1191.8,919.3 1188,914.8 1180.4,910C1172.8,905.2 1161.4,900.8 1150,896C1138.6,891.2 1124.6,886.2 1112,881.5C1099.4,876.8 1087,872.4 1074.4,868C1061.8,863.6 1049.2,858.8 1036.6,855C1024,851.2 1012.6,848.8 998.7,845.5C984.8,842.2 967.5,837.9 953,835C938.5,832.1 924.7,831.7 911.5,828C898.3,824.3 886.3,819.1 873.7,812.8C861.1,806.5 848.4,798.2 835.8,790C823.2,781.8 809.4,771.2 798,763.6C786.6,756 776.5,749.4 767.7,744.6C758.9,739.8 753.8,737.4 745,735C736.2,732.6 725.4,730.7 714.7,730C704,729.3 690.4,729.6 680.6,730.6C670.8,731.6 663.6,734.6 656,736C648.4,737.4 646,738.2 635,739C624,739.8 605.1,741.1 589.8,740.9C574.5,740.7 557.1,738.7 543,738C528.9,737.3 517.7,736.5 505,736.9C492.3,737.4 479.6,739.2 467,740.7C454.4,742.2 445.1,742.5 429.4,746C413.7,749.5 391.5,757 372.6,761.5C353.7,766 331.6,770.3 315.8,772.8C300,775.3 290.6,776.6 278,776.6C265.4,776.6 252.7,774.4 240,772.8C227.3,771.2 214.6,768.6 202,767C189.4,765.4 178.2,763.7 164.4,763.4C150.6,763.1 126.6,764.7 119,765L73,760L33,670L73,590Z" fill="#80c01f"/>
<path d="M109.5,602.5C118.7,601.5 145.8,600.3 164.4,596.8C183,593.3 202.3,589 221.2,581.7C240.1,574.4 259.1,563.5 278,553C296.9,542.5 318.5,529.7 334.8,519C351.1,508.3 365.8,496.2 375.8,489C385.8,481.8 388.5,480.5 394.8,476C401.1,471.5 404.2,466.5 413.7,462C423.1,457.5 438.9,452.7 451.5,449C464.1,445.3 476.8,442.5 489.4,440C502,437.5 515.6,434 527,434C538.4,434 548,436.8 557.5,440C567,443.2 575.1,447.8 584,453C592.9,458.2 600.1,465.2 610.9,471C621.7,476.8 636.1,483.2 648.7,488C661.3,492.8 674,496.8 686.6,499.5C699.2,502.2 711.8,503.8 724.4,504.4C737,505 749.4,504.1 762,503C774.6,501.9 787.3,499.4 800,497.6C812.7,495.8 822.2,493.3 838,492C853.8,490.7 875.9,489.7 894.8,490C913.7,490.3 935.7,491.3 951.5,493.8C967.3,496.3 979.3,500 989.4,505C999.5,510 1005.7,515.2 1012,524C1018.3,532.8 1021.9,546 1027,558C1032.1,570 1036.7,584 1042.4,596C1048.1,608 1054.1,619.9 1061,630C1067.9,640.1 1075.8,649.4 1084,656.6C1092.2,663.8 1101.3,668.6 1110.5,673C1119.7,677.4 1130.5,679.8 1139,683C1147.5,686.2 1152.1,689.2 1161.5,692C1170.9,694.8 1184.9,696.6 1195.6,699.8C1206.3,703 1217.6,706.3 1225.8,711C1234,715.7 1238.5,722 1244.8,728C1251.1,734 1257.4,741.3 1263.7,747C1270,752.7 1277.9,756.6 1282.6,762.3C1287.3,768 1291,772.8 1292,781C1293,789.2 1291.8,802.7 1288.3,811.5C1284.8,820.3 1277.9,828 1271.3,834C1264.7,840 1256.1,844.6 1248.5,847.4C1240.9,850.2 1235.9,853.2 1225.8,851C1215.7,848.8 1200.6,839.3 1188,834C1175.4,828.7 1165.8,823.4 1150,819C1134.2,814.6 1112.2,810.5 1093.3,807.7C1074.4,804.9 1052.4,803.6 1036.6,802C1020.8,800.4 1010.1,801.2 998.7,798C987.3,794.8 979.1,787.8 968.3,783C957.5,778.2 946.6,772.2 934,769C921.4,765.8 907.7,765.4 892.6,763.6C877.5,761.8 857.9,761.2 843.4,758C828.9,754.8 816.9,750 805.5,744.6C794.1,739.2 783.8,732.3 775,725.7C766.2,719.1 760.1,710.5 752.6,705C745.1,699.5 741.2,695 729.8,692.4C718.4,689.9 701.1,690 684.4,689.7C667.7,689.4 647.1,689.8 629.8,690.7C612.5,691.6 595.3,693.3 580.8,695C566.3,696.7 558.8,697.8 543,701C527.2,704.2 505.1,709.6 486.2,714C467.3,718.4 451.5,723.6 429.4,727.4C407.3,731.2 378.9,734.7 353.7,736.9C328.5,739.1 300.1,740.4 278,740.7C255.9,741 240.1,740.4 221.2,738.8C202.3,737.2 180.2,732.6 164.4,731C148.6,729.4 137.7,728.3 126.6,729C115.5,729.7 102.8,734 98,735L53,730L33,670L73,610Z" fill="#5ab127"/>
<path d="M81,615.7C85.4,617.6 96.8,624.1 107.6,627C118.3,629.9 132.9,632.1 145.5,632.8C158.1,633.5 170.4,633.5 183,631C195.6,628.5 208.5,623 221.2,617.6C233.9,612.2 248.3,603.8 259,598.7C269.7,593.6 278,590.5 285.6,587C293.2,583.5 297.6,581.4 304.5,578C311.4,574.6 318.8,570.3 327,566.5C335.2,562.7 342.9,557.8 353.7,555C364.4,552.2 380.1,550.5 391.5,549.5C402.9,548.5 413.9,547.8 421.8,548.7C429.7,549.6 435.4,551.7 438.9,555C442.4,558.3 443.6,563.1 442.6,568.4C441.6,573.7 438.4,581.3 433,587C427.6,592.7 416.8,597.4 410.5,602.5C404.2,607.6 398.2,612.5 395.3,617.6C392.4,622.6 392.1,627.7 393.4,632.8C394.7,637.9 398.3,643.6 403,648C407.7,652.4 415.5,655.9 421.8,659C428.1,662.1 436,664 440.7,666.8C445.4,669.6 449.1,672.5 450,676C450.9,679.5 449.8,684.9 446.4,687.7C443,690.5 438.5,691.5 429.4,693C420.2,694.5 404.1,696.3 391.5,697C378.9,697.7 366.3,698.5 353.7,697C341.1,695.5 327.1,690.1 315.8,687.7C304.5,685.3 297,682.7 285.6,682.7C274.2,682.7 260.3,686.2 247.7,687.7C235.1,689.2 221.8,692 209.8,691.4C197.8,690.8 187.2,686.6 175.8,684C164.5,681.4 153.7,675.4 141.7,676C129.7,676.6 110.1,685.8 103.8,687.7L73,690L3,670L3,620L53,610Z" fill="#1f9636"/>
<path d="M510.8,568.4C510.8,563.6 511.8,558.1 516.5,555C521.2,551.9 532.1,550.7 539,550C545.9,549.3 551,550.2 558,551C565,551.8 574.6,553.2 580.8,555C587,556.8 591.9,558.5 595,562C598.1,565.5 599.6,571 599.7,576C599.8,581 597.6,586.3 595.7,592C593.8,597.7 592.2,603.8 588.4,610C584.6,616.2 578.1,624.6 573,629C567.9,633.4 562.4,636.6 558,636.6C553.6,636.6 551.1,634.1 546.7,629C542.3,623.9 536.6,613.6 531.6,606C526.6,598.4 520,589.9 516.5,583.6C513,577.3 510.8,573.2 510.8,568.4Z" fill="#1f9636"/>
<path d="M777.4,569.6C776.8,563.3 780,556 785,550.6C790,545.2 797.6,540.9 807.7,537.4C817.8,533.9 834.8,531.7 845.5,529.8C856.2,527.9 864.1,526.6 872,526C879.9,525.4 886,525.7 893,526C900,526.3 905.2,525.8 913.7,528C922.2,530.2 935.2,534.3 944,539C952.8,543.7 960.4,549.7 966.7,556C973,562.3 977.7,569.7 981.8,577C985.9,584.3 989.4,592.8 991.3,599.8C993.2,606.8 990.8,611.8 993,618.8C995.2,625.8 1000.7,634.6 1004.5,641.5C1008.3,648.4 1013.5,653.8 1016,660C1018.5,666.2 1020.4,672.7 1019.7,679C1019,685.3 1015.8,693.5 1012,698C1008.2,702.5 1002,704.2 997,705.8C992,707.4 986.2,709 981.8,707.7C977.4,706.4 974.3,701.5 970.5,698C966.7,694.5 964.7,690.5 959,687C953.3,683.5 945.2,679.5 936.4,677C927.6,674.5 916.1,674 906,671.8C895.9,669.6 885.9,667.5 875.8,664C865.7,660.5 854.3,656.3 845.5,651C836.7,645.7 829.9,639.3 823,632C816.1,624.7 809.7,614.7 804,607.4C798.3,600.2 793.2,594.8 788.8,588.5C784.4,582.2 778,575.9 777.4,569.6Z" fill="#1f9636"/>
<g mask="url(#lm2)" fill="none" stroke="#111a08" stroke-width="2">
<path d="M334,305.5C338.4,302.9 353.1,297.6 360.7,290C368.3,282.4 375.2,269.4 379.6,260C384,250.6 385.8,238 387,233.6"/>
<path d="M321,351C327.6,347.8 348.4,340.8 360.7,332C373,323.2 386,311.2 394.8,298C403.6,284.8 407.4,265.2 413.7,252.5C420,239.8 425.7,229.2 432.6,222C439.5,214.8 448.1,212.8 455,209C461.9,205.2 467,204.2 474,199.5C481,194.8 490.7,186.9 497,180.6C503.3,174.3 507.6,167.6 512,161.6C516.4,155.6 521.6,147.4 523.5,144.6"/>
<path d="M226.3,399.4C235.4,397.6 262.4,394.4 281,388.8C299.6,383.2 320.9,374.8 338,366C355.1,357.2 370.8,347.1 383.4,335.8C396,324.5 404.9,310 413.7,298C422.5,286 428.8,272 436.4,263.8C443.9,255.6 451.4,253.7 459,248.7C466.6,243.7 470.5,239 481.8,233.6C493.1,228.2 512.5,221.1 527,216.5C541.5,211.9 562,207.8 569,206"/>
<path d="M207.4,464.5C213.3,462.6 227.6,459.9 243,453C258.4,446.1 281,434.1 300,422.8C319,411.5 340.6,397.6 357,385C373.4,372.4 386.5,359.7 398.5,347C410.5,334.3 419.4,319.7 428.8,309C438.2,298.3 444.9,289.7 455,282.8C465.1,275.9 480.6,271.1 489.4,267.6C498.2,264.1 501.1,263.9 508,262C514.9,260.1 519.6,258.8 531,256C542.4,253.2 562.7,248.7 576.5,245C590.3,241.3 607.8,235.5 614,233.6"/>
<path d="M126,545.9C132.9,545.3 151.2,546.1 167.6,542C184,537.9 202.3,533.3 224.4,521C246.5,508.7 274.8,485 300,468C325.2,451 353.7,432.8 375.8,419C397.9,405.2 416.8,395.7 432.6,385C448.4,374.3 459.8,362.6 470.5,354.7C481.2,346.8 488.8,342.2 497,337.7C505.2,333.3 512.8,330.2 519.7,328C526.6,325.8 531.7,325.4 538.6,324.5C545.5,323.6 553.4,322.8 561,322.5C568.6,322.2 578,322.2 584,322.5C590,322.8 594.8,324.1 597,324.4"/>
<path d="M119,568C126.6,567.1 150.6,565.8 164.4,562.7C178.2,559.6 188.9,555.8 202,549.5C215.1,543.2 226.7,536.1 243,525C259.3,513.9 277.9,498.2 300,483C322.1,467.8 353.7,447.8 375.8,434C397.9,420.2 417.5,408.8 432.6,400C447.8,391.2 458.5,385.2 466.7,381C474.9,376.8 476.1,378.2 481.8,375C487.5,371.8 493.2,366 500.7,362C508.2,358 516.3,353.5 527,351C537.7,348.5 552.3,346.7 565,347C577.7,347.3 590.4,350.3 603,352.8C615.6,355.3 627.5,358.4 640.8,362C654.1,365.6 675.8,372.5 682.8,374.6"/>
<path d="M113.3,587C121.8,586.1 146.4,586.1 164.4,581.7C182.4,577.3 202.3,569.3 221.2,560.8C240.1,552.3 261.7,541.6 278,530.6C294.3,519.6 302.7,507.3 319,495C335.3,482.7 357.5,467.2 375.8,457C394.1,446.8 416.8,439.4 428.8,434C440.8,428.6 441.5,428.2 447.8,424.7C454.1,421.2 459.8,417.8 466.7,413C473.6,408.2 480.6,401.7 489.4,396C498.2,390.3 510.3,382.4 519.7,379C529.1,375.6 537.2,375.2 546,375.5C554.8,375.8 565.1,377.6 572.7,381C580.3,384.4 585.2,389.8 591.6,396C598,402.2 603.3,411.2 610.9,418C618.5,424.8 627.9,432.2 637.4,437C646.9,441.8 662.6,444.9 667.6,446.5"/>
<path d="M109.5,602.5C118.7,601.5 145.8,600.3 164.4,596.8C183,593.3 202.3,589 221.2,581.7C240.1,574.4 259.1,563.5 278,553C296.9,542.5 318.5,529.7 334.8,519C351.1,508.3 365.8,496.2 375.8,489C385.8,481.8 388.5,480.5 394.8,476C401.1,471.5 404.2,466.5 413.7,462C423.1,457.5 438.9,452.7 451.5,449C464.1,445.3 476.8,442.5 489.4,440C502,437.5 515.6,434 527,434C538.4,434 548,436.8 557.5,440C567,443.2 575.1,447.8 584,453C592.9,458.2 600.1,465.2 610.9,471C621.7,476.8 636.1,483.2 648.7,488C661.3,492.8 674,496.8 686.6,499.5C699.2,502.2 711.8,503.8 724.4,504.4C737,505 749.4,504.1 762,503C774.6,501.9 787.3,499.4 800,497.6C812.7,495.8 822.2,493.3 838,492C853.8,490.7 875.9,489.7 894.8,490C913.7,490.3 935.7,491.3 951.5,493.8C967.3,496.3 979.3,500 989.4,505C999.5,510 1005.7,515.2 1012,524C1018.3,532.8 1021.9,546 1027,558C1032.1,570 1036.7,584 1042.4,596C1048.1,608 1054.1,619.9 1061,630C1067.9,640.1 1075.8,649.4 1084,656.6C1092.2,663.8 1101.3,668.6 1110.5,673C1119.7,677.4 1130.5,679.8 1139,683C1147.5,686.2 1152.1,689.2 1161.5,692C1170.9,694.8 1184.9,696.6 1195.6,699.8C1206.3,703 1217.6,706.3 1225.8,711C1234,715.7 1238.5,722 1244.8,728C1251.1,734 1257.4,741.3 1263.7,747C1270,752.7 1277.9,756.6 1282.6,762.3C1287.3,768 1291,772.8 1292,781C1293,789.2 1291.8,802.7 1288.3,811.5C1284.8,820.3 1277.9,828 1271.3,834C1264.7,840 1256.1,844.6 1248.5,847.4C1240.9,850.2 1235.9,853.2 1225.8,851C1215.7,848.8 1200.6,839.3 1188,834C1175.4,828.7 1165.8,823.4 1150,819C1134.2,814.6 1112.2,810.5 1093.3,807.7C1074.4,804.9 1052.4,803.6 1036.6,802C1020.8,800.4 1010.1,801.2 998.7,798C987.3,794.8 979.1,787.8 968.3,783C957.5,778.2 946.6,772.2 934,769C921.4,765.8 907.7,765.4 892.6,763.6C877.5,761.8 857.9,761.2 843.4,758C828.9,754.8 816.9,750 805.5,744.6C794.1,739.2 783.8,732.3 775,725.7C766.2,719.1 760.1,710.5 752.6,705C745.1,699.5 741.2,695 729.8,692.4C718.4,689.9 701.1,690 684.4,689.7C667.7,689.4 647.1,689.8 629.8,690.7C612.5,691.6 595.3,693.3 580.8,695C566.3,696.7 558.8,697.8 543,701C527.2,704.2 505.1,709.6 486.2,714C467.3,718.4 451.5,723.6 429.4,727.4C407.3,731.2 378.9,734.7 353.7,736.9C328.5,739.1 300.1,740.4 278,740.7C255.9,741 240.1,740.4 221.2,738.8C202.3,737.2 180.2,732.6 164.4,731C148.6,729.4 137.7,728.3 126.6,729C115.5,729.7 102.8,734 98,735"/>
<path d="M81,615.7C85.4,617.6 96.8,624.1 107.6,627C118.3,629.9 132.9,632.1 145.5,632.8C158.1,633.5 170.4,633.5 183,631C195.6,628.5 208.5,623 221.2,617.6C233.9,612.2 248.3,603.8 259,598.7C269.7,593.6 278,590.5 285.6,587C293.2,583.5 297.6,581.4 304.5,578C311.4,574.6 318.8,570.3 327,566.5C335.2,562.7 342.9,557.8 353.7,555C364.4,552.2 380.1,550.5 391.5,549.5C402.9,548.5 413.9,547.8 421.8,548.7C429.7,549.6 435.4,551.7 438.9,555C442.4,558.3 443.6,563.1 442.6,568.4C441.6,573.7 438.4,581.3 433,587C427.6,592.7 416.8,597.4 410.5,602.5C404.2,607.6 398.2,612.5 395.3,617.6C392.4,622.6 392.1,627.7 393.4,632.8C394.7,637.9 398.3,643.6 403,648C407.7,652.4 415.5,655.9 421.8,659C428.1,662.1 436,664 440.7,666.8C445.4,669.6 449.1,672.5 450,676C450.9,679.5 449.8,684.9 446.4,687.7C443,690.5 438.5,691.5 429.4,693C420.2,694.5 404.1,696.3 391.5,697C378.9,697.7 366.3,698.5 353.7,697C341.1,695.5 327.1,690.1 315.8,687.7C304.5,685.3 297,682.7 285.6,682.7C274.2,682.7 260.3,686.2 247.7,687.7C235.1,689.2 221.8,692 209.8,691.4C197.8,690.8 187.2,686.6 175.8,684C164.5,681.4 153.7,675.4 141.7,676C129.7,676.6 110.1,685.8 103.8,687.7"/>
<path d="M510.8,568.4C510.8,563.6 511.8,558.1 516.5,555C521.2,551.9 532.1,550.7 539,550C545.9,549.3 551,550.2 558,551C565,551.8 574.6,553.2 580.8,555C587,556.8 591.9,558.5 595,562C598.1,565.5 599.6,571 599.7,576C599.8,581 597.6,586.3 595.7,592C593.8,597.7 592.2,603.8 588.4,610C584.6,616.2 578.1,624.6 573,629C567.9,633.4 562.4,636.6 558,636.6C553.6,636.6 551.1,634.1 546.7,629C542.3,623.9 536.6,613.6 531.6,606C526.6,598.4 520,589.9 516.5,583.6C513,577.3 510.8,573.2 510.8,568.4Z"/>
<path d="M777.4,569.6C776.8,563.3 780,556 785,550.6C790,545.2 797.6,540.9 807.7,537.4C817.8,533.9 834.8,531.7 845.5,529.8C856.2,527.9 864.1,526.6 872,526C879.9,525.4 886,525.7 893,526C900,526.3 905.2,525.8 913.7,528C922.2,530.2 935.2,534.3 944,539C952.8,543.7 960.4,549.7 966.7,556C973,562.3 977.7,569.7 981.8,577C985.9,584.3 989.4,592.8 991.3,599.8C993.2,606.8 990.8,611.8 993,618.8C995.2,625.8 1000.7,634.6 1004.5,641.5C1008.3,648.4 1013.5,653.8 1016,660C1018.5,666.2 1020.4,672.7 1019.7,679C1019,685.3 1015.8,693.5 1012,698C1008.2,702.5 1002,704.2 997,705.8C992,707.4 986.2,709 981.8,707.7C977.4,706.4 974.3,701.5 970.5,698C966.7,694.5 964.7,690.5 959,687C953.3,683.5 945.2,679.5 936.4,677C927.6,674.5 916.1,674 906,671.8C895.9,669.6 885.9,667.5 875.8,664C865.7,660.5 854.3,656.3 845.5,651C836.7,645.7 829.9,639.3 823,632C816.1,624.7 809.7,614.7 804,607.4C798.3,600.2 793.2,594.8 788.8,588.5C784.4,582.2 778,575.9 777.4,569.6Z"/>
<path d="M815,425.7C818.8,427.6 829.2,434.3 838,437C846.8,439.7 857.6,442.5 868,442C878.4,441.5 890.9,437 900.4,434C909.9,431 916.5,426.5 925,423.8C933.5,421.1 943.3,418 951.5,418C959.7,418 965.8,420 974,423.8C982.2,427.6 991.9,434.8 1000.7,440.8C1009.5,446.8 1016.3,453.5 1027,459.8C1037.7,466.1 1052.7,474 1065,478.7C1077.3,483.4 1095,486.4 1101,488"/>
<path d="M760.4,442.7C764.5,444.9 775.2,452.5 785,456C794.8,459.5 803.9,461.8 819,463.6C834.1,465.4 856.9,467 875.8,467C894.7,467 916.8,463.8 932.6,463.6C948.4,463.3 957.9,463.6 970.5,465.5C983.1,467.4 996.6,470.2 1008,475C1019.4,479.8 1029.8,486.5 1038.6,494C1047.4,501.5 1054.7,510.6 1061,520C1067.3,529.4 1070.8,539.8 1076.5,550.6C1082.2,561.4 1088.5,575.2 1095.4,584.7C1102.3,594.2 1110.4,602 1118,607.4C1125.6,612.8 1133.5,613.9 1140.8,617C1148,620.1 1154.3,622.9 1161.5,626C1168.7,629.1 1175.8,631.7 1184,635.5C1192.2,639.3 1202.5,642.1 1210.7,648.7C1218.9,655.3 1224.6,666.2 1233.4,675C1242.2,683.8 1253.6,692.2 1263.7,701.7C1273.8,711.2 1285.8,722.5 1294,732C1302.2,741.5 1308.6,749.7 1313,758.5C1317.4,767.3 1319.6,775.6 1320.5,785C1321.4,794.4 1320.5,804.3 1318.6,815C1316.7,825.7 1313.1,837 1309,849C1304.9,861 1299,875.6 1294,887C1289,898.4 1282.6,909.3 1278.8,917.5C1275,925.7 1272.9,930.2 1271.3,936.4C1269.7,942.7 1269.7,951.9 1269.4,955"/>
<path d="M1242.9,609C1243.8,612.5 1245.7,623.2 1248.5,629.8C1251.3,636.4 1255.9,643 1260,648.7C1264.1,654.4 1268.6,658.8 1273,663.8C1277.4,668.8 1279.7,672.7 1286.4,679C1293.1,685.3 1305.4,694.1 1313,701.7C1320.6,709.3 1326.5,716.9 1331.8,724.4C1337.1,732 1341.8,738.2 1345,747C1348.2,755.8 1350.1,767.3 1350.8,777.4C1351.5,787.5 1350.5,797 1348.9,807.7C1347.3,818.4 1344.5,829.8 1341,841.8C1337.5,853.8 1333.3,866.4 1328,879.6C1322.7,892.8 1315.9,907.1 1309,921C1302.1,934.9 1290.2,956 1286.4,963"/>
<path d="M1339.4,681C1343.2,684.5 1356.6,694.5 1362,701.7C1367.4,708.9 1369.6,715.9 1371.6,724.4C1373.6,732.9 1373.1,742.7 1374,752.8C1374.9,762.9 1377.4,773.3 1377,785C1376.6,796.7 1374.1,810.2 1371.6,822.8C1369.1,835.4 1366.8,846.8 1362,860.7C1357.2,874.6 1349.3,890.9 1343,906C1336.7,921.1 1327.2,943.9 1324,951.5"/>
<path d="M1203,944C1201.8,940.8 1199.4,930.7 1195.6,925C1191.8,919.3 1188,914.8 1180.4,910C1172.8,905.2 1161.4,900.8 1150,896C1138.6,891.2 1124.6,886.2 1112,881.5C1099.4,876.8 1087,872.4 1074.4,868C1061.8,863.6 1049.2,858.8 1036.6,855C1024,851.2 1012.6,848.8 998.7,845.5C984.8,842.2 967.5,837.9 953,835C938.5,832.1 924.7,831.7 911.5,828C898.3,824.3 886.3,819.1 873.7,812.8C861.1,806.5 848.4,798.2 835.8,790C823.2,781.8 809.4,771.2 798,763.6C786.6,756 776.5,749.4 767.7,744.6C758.9,739.8 753.8,737.4 745,735C736.2,732.6 725.4,730.7 714.7,730C704,729.3 690.4,729.6 680.6,730.6C670.8,731.6 663.6,734.6 656,736C648.4,737.4 646,738.2 635,739C624,739.8 605.1,741.1 589.8,740.9C574.5,740.7 557.1,738.7 543,738C528.9,737.3 517.7,736.5 505,736.9C492.3,737.4 479.6,739.2 467,740.7C454.4,742.2 445.1,742.5 429.4,746C413.7,749.5 391.5,757 372.6,761.5C353.7,766 331.6,770.3 315.8,772.8C300,775.3 290.6,776.6 278,776.6C265.4,776.6 252.7,774.4 240,772.8C227.3,771.2 214.6,768.6 202,767C189.4,765.4 178.2,763.7 164.4,763.4C150.6,763.1 126.6,764.7 119,765"/>
<path d="M1161.5,944C1160.2,941.5 1157.8,933.8 1154,928.8C1150.2,923.8 1145.8,918.2 1138.8,913.7C1131.8,909.2 1122.7,905.1 1112,902C1101.3,898.9 1087,897 1074.4,894.8C1061.8,892.6 1049.2,891.2 1036.6,889C1024,886.8 1011.3,884.3 998.7,881.5C986.1,878.7 973.5,874.5 960.9,872C948.3,869.5 935.3,866.9 923,866.5C910.7,866.1 893,869.1 887,869.6"/>
<path d="M856.7,843C855.1,841.1 853.2,836.7 847.2,831.7C841.2,826.7 829.6,818.8 820.7,812.8C811.8,806.8 798.5,798.6 794,795.7"/>
<path d="M771.5,784.4C770.2,782.8 768.4,778.5 764,775C759.6,771.5 752.6,766.8 745,763.6C737.4,760.4 726.6,757.4 718.5,756C710.4,754.6 703.1,754.8 696.5,755C689.9,755.2 687,756.2 678.7,757C670.4,757.8 661.4,759 646.6,759.8C631.8,760.6 605.4,761.8 589.8,761.7C574.2,761.6 564,760.3 553,759C542,757.7 538.3,755.2 524,754C509.7,752.8 484,751.4 467,752C450,752.6 437.5,754.2 421.8,757.7C406.1,761.2 387.1,767.1 372.6,772.8C358.1,778.5 345.5,785.5 334.8,791.8C324.1,798.1 315.9,804.7 308.3,810.7C300.7,816.7 295.6,824.9 289.3,827.7C283,830.5 277.3,829.3 270.4,827.7C263.5,826.1 255.9,822.8 247.7,818C239.5,813.2 230,804.7 221.2,799C212.4,793.3 204.2,787.4 194.7,784C185.2,780.6 174.5,779.2 164.4,778.5C154.3,777.8 139.1,779.8 134,780"/>
<path d="M147.4,790C151.5,790.3 164.1,790.3 172,791.8C179.9,793.3 187.8,795.5 194.7,799C201.6,802.5 208.9,807.8 213.6,812.6C218.3,817.4 221.4,825.2 223,827.7"/>
<path d="M304.5,841C308.2,837.2 318.8,825 327,818C335.2,811 342.9,805.3 353.7,799C364.4,792.7 377.3,785.2 391.5,780C405.7,774.8 426.3,770.8 438.9,768C451.5,765.2 456,763.9 467,763.4C478,762.9 492.3,762.8 505,765C517.7,767.2 533.5,772.8 543,776.6C552.5,780.4 558.8,786.1 562,788"/>
<path d="M340.4,860C343.9,856.2 352.8,843.7 361.3,837C369.8,830.3 381.4,823.8 391.5,820C401.6,816.2 413,815.2 421.8,814.5C430.6,813.8 438.5,814.1 444.5,816C450.5,817.9 455.6,824.2 457.8,825.8"/>
<path d="M855,398C855.3,399.5 854.8,404.7 857,406.8C859.2,408.9 863,410.6 868,410.6C873,410.6 882.8,408.4 887,406.8C891.2,405.2 892,402 893,401"/>
</g>
</g>
<use href="#coast" fill="none" stroke="#1b5b96" stroke-width="2" stroke-linejoin="round"/>
<path d="M522,191.4C523,197 526,201 530.5,203.4C538,206 548,210 555.7,211.6M562,214.7L577,222M616,238L631.4,244.4" fill="none" stroke="#1b5b96" stroke-width="1.6"/>
<path d="M971.5,372L980,361.5" fill="none" stroke="#1b5b96" stroke-width="2.6" stroke-linecap="round"/>
<g font-family="'Liberation Sans',sans-serif" font-size="20" text-anchor="middle" fill="#000" stroke="#000" stroke-width="0.7">
<text transform="translate(474,199.5) rotate(-30)" y="7.1" textLength="34.5" lengthAdjust="spacingAndGlyphs">16,0</text>
<text transform="translate(459,248.7) rotate(-38)" y="7.1" textLength="34.5" lengthAdjust="spacingAndGlyphs">17,0</text>
<text transform="translate(508,262) rotate(-15)" y="7.1" textLength="34.5" lengthAdjust="spacingAndGlyphs">17,5</text>
<text transform="translate(538.6,325) rotate(-6)" y="7.1" textLength="34.5" lengthAdjust="spacingAndGlyphs">18,0</text>
<text transform="translate(481.8,376) rotate(-30)" y="7.1" textLength="34.5" lengthAdjust="spacingAndGlyphs">18,1</text>
<text transform="translate(447.8,425) rotate(-30)" y="7.1" textLength="34.5" lengthAdjust="spacingAndGlyphs">18,2</text>
<text transform="translate(394.8,476) rotate(-33)" y="7.1" textLength="34.5" lengthAdjust="spacingAndGlyphs">18,3</text>
<text transform="translate(304.5,579) rotate(-28)" y="7.1" textLength="34.5" lengthAdjust="spacingAndGlyphs">18,4</text>
<text transform="translate(558,551) rotate(5)" y="7.1" textLength="34.5" lengthAdjust="spacingAndGlyphs">18,4</text>
<text transform="translate(893,526) rotate(2)" y="7.1" textLength="34.5" lengthAdjust="spacingAndGlyphs">18,4</text>
<text transform="translate(900.4,434) rotate(-17)" y="7.1" textLength="34.5" lengthAdjust="spacingAndGlyphs">18,1</text>
<text transform="translate(1161.5,626) rotate(22)" y="7.1" textLength="34.5" lengthAdjust="spacingAndGlyphs">18,2</text>
<text transform="translate(1139,683) rotate(20)" y="7.1" textLength="34.5" lengthAdjust="spacingAndGlyphs">18,3</text>
<text transform="translate(1273,663.8) rotate(50)" y="7.1" textLength="34.5" lengthAdjust="spacingAndGlyphs">18,1</text>
<text transform="translate(1374,752.8) rotate(88)" y="7.1" textLength="34.5" lengthAdjust="spacingAndGlyphs">18,0</text>
<text transform="translate(656,736) rotate(-6)" y="7.1" textLength="34.5" lengthAdjust="spacingAndGlyphs">18,2</text>
<text transform="translate(696.5,755) rotate(-4)" y="7.1" textLength="34.5" lengthAdjust="spacingAndGlyphs">18,1</text>
<text transform="translate(438.9,768) rotate(-12)" y="7.1" textLength="34.5" lengthAdjust="spacingAndGlyphs">18,0</text>
</g>
<circle cx="457" cy="159.5" r="4.6" fill="#fff" stroke="#000" stroke-width="2"/>
<circle cx="677.6" cy="438" r="4.6" fill="#fff" stroke="#000" stroke-width="2"/>
<circle cx="1071.8" cy="452" r="4.6" fill="#fff" stroke="#000" stroke-width="2"/>
<circle cx="1193.9" cy="539" r="4.6" fill="#fff" stroke="#000" stroke-width="2"/>
<circle cx="1249.4" cy="607" r="4.6" fill="#fff" stroke="#000" stroke-width="2"/>
<circle cx="1442" cy="875.4" r="4.6" fill="#fff" stroke="#000" stroke-width="2"/>
<circle cx="775.7" cy="788.8" r="4.6" fill="#fff" stroke="#000" stroke-width="2"/>
<circle cx="128.2" cy="531.3" r="4.6" fill="#fff" stroke="#000" stroke-width="2"/>
</g>
<g font-family="'Liberation Sans',sans-serif" font-weight="bold" fill="#000">
<text x="176.8" y="58.6" font-size="47.5" textLength="1020" lengthAdjust="spacingAndGlyphs">СОЛЕНОСТЬ ВОДЫ НА ПОВЕРХНОСТИ МОРЯ</text>
<text x="1011" y="229.5" font-size="34" textLength="171.5" lengthAdjust="spacingAndGlyphs">ФЕВРАЛЬ</text>
<text x="1143" y="1286" font-size="34" textLength="76" lengthAdjust="spacingAndGlyphs">МАЙ</text>
<text x="65" y="2033" font-size="40.8" textLength="421.5" lengthAdjust="spacingAndGlyphs">Масштаб 1:10 000 000</text>
</g>
<rect x="340.3" y="1054.4" width="70.7" height="29.6" fill="#fffdd2"/>
<rect x="411" y="1054.4" width="70.7" height="29.6" fill="#e4f3e0"/>
<rect x="481.8" y="1054.4" width="70.7" height="29.6" fill="#e2f1b6"/>
<rect x="552.5" y="1054.4" width="70.7" height="29.6" fill="#e3ef7b"/>
<rect x="623.3" y="1054.4" width="70.7" height="29.6" fill="#cfe8a0"/>
<rect x="694" y="1054.4" width="70.7" height="29.6" fill="#cde752"/>
<rect x="764.7" y="1054.4" width="70.7" height="29.6" fill="#b5dd6f"/>
<rect x="835.5" y="1054.4" width="70.7" height="29.6" fill="#b6d916"/>
<rect x="906.2" y="1054.4" width="70.7" height="29.6" fill="#9ccd1b"/>
<rect x="977" y="1054.4" width="70.7" height="29.6" fill="#80c01f"/>
<rect x="1047.7" y="1054.4" width="70.7" height="29.6" fill="#5ab127"/>
<rect x="1118.4" y="1054.4" width="70.7" height="29.6" fill="#1f9636"/>
<path d="M411,1054.4v29.6M481.8,1054.4v29.6M552.5,1054.4v29.6M623.3,1054.4v29.6M694,1054.4v29.6M764.7,1054.4v29.6M835.5,1054.4v29.6M906.2,1054.4v29.6M977,1054.4v29.6M1047.7,1054.4v29.6M1118.4,1054.4v29.6" stroke="#0a0f05" stroke-width="1.7" fill="none"/>
<rect x="340.3" y="1054.4" width="848.9" height="29.6" fill="none" stroke="#0a0f05" stroke-width="2"/>
<g font-family="'Liberation Sans',sans-serif" font-size="22.8" fill="#000" stroke="#000" stroke-width="0.8">
<text x="409" y="1110" text-anchor="middle" textLength="44" lengthAdjust="spacingAndGlyphs">12,0</text>
<text x="482" y="1110" text-anchor="middle" textLength="44" lengthAdjust="spacingAndGlyphs">13,0</text>
<text x="548" y="1110" text-anchor="middle" textLength="44" lengthAdjust="spacingAndGlyphs">14,0</text>
<text x="622" y="1110" text-anchor="middle" textLength="44" lengthAdjust="spacingAndGlyphs">15,0</text>
<text x="692" y="1110" text-anchor="middle" textLength="44" lengthAdjust="spacingAndGlyphs">16,0</text>
<text x="760.5" y="1110" text-anchor="middle" textLength="44" lengthAdjust="spacingAndGlyphs">17,0</text>
<text x="834.5" y="1110" text-anchor="middle" textLength="44" lengthAdjust="spacingAndGlyphs">17,5</text>
<text x="905.5" y="1110" text-anchor="middle" textLength="44" lengthAdjust="spacingAndGlyphs">18,0</text>
<text x="975" y="1110" text-anchor="middle" textLength="44" lengthAdjust="spacingAndGlyphs">18,1</text>
<text x="1041" y="1110" text-anchor="middle" textLength="44" lengthAdjust="spacingAndGlyphs">18,2</text>
<text x="1116" y="1110" text-anchor="middle" textLength="44" lengthAdjust="spacingAndGlyphs">18,3</text>
<text x="300.5" y="1110" textLength="70.5" lengthAdjust="spacingAndGlyphs">менее</text>
<text x="1166" y="1110" textLength="67" lengthAdjust="spacingAndGlyphs">более</text>
<text x="601.6" y="1040" font-size="24" textLength="331.2" lengthAdjust="spacingAndGlyphs">Соленость воды (в промилле)</text>
</g>
<rect x="443" y="2092.2" width="70.8" height="29.2" fill="#e6f4cd"/>
<rect x="513.8" y="2092.2" width="70.8" height="29.2" fill="#e3ef7b"/>
<rect x="584.5" y="2092.2" width="70.8" height="29.2" fill="#cfe8a0"/>
<rect x="655.2" y="2092.2" width="70.8" height="29.2" fill="#cde752"/>
<rect x="726" y="2092.2" width="70.8" height="29.2" fill="#b5dd6f"/>
<rect x="796.8" y="2092.2" width="70.8" height="29.2" fill="#b6d916"/>
<rect x="867.5" y="2092.2" width="70.8" height="29.2" fill="#9ccd1b"/>
<rect x="938.2" y="2092.2" width="70.8" height="29.2" fill="#80c01f"/>
<rect x="1009" y="2092.2" width="70.8" height="29.2" fill="#5ab127"/>
<rect x="1079.8" y="2092.2" width="70.8" height="29.2" fill="#1f9636"/>
<path d="M513.8,2092.2v29.2M584.5,2092.2v29.2M655.2,2092.2v29.2M726,2092.2v29.2M796.8,2092.2v29.2M867.5,2092.2v29.2M938.2,2092.2v29.2M1009,2092.2v29.2M1079.8,2092.2v29.2" stroke="#0a0f05" stroke-width="1.7" fill="none"/>
<rect x="443" y="2092.2" width="707.5" height="29.2" fill="none" stroke="#0a0f05" stroke-width="2"/>
<g font-family="'Liberation Sans',sans-serif" font-size="22.8" fill="#000" stroke="#000" stroke-width="0.8">
<text x="513.8" y="2147.5" text-anchor="middle" textLength="44" lengthAdjust="spacingAndGlyphs">15,0</text>
<text x="584.5" y="2147.5" text-anchor="middle" textLength="44" lengthAdjust="spacingAndGlyphs">16,0</text>
<text x="655.2" y="2147.5" text-anchor="middle" textLength="44" lengthAdjust="spacingAndGlyphs">17,0</text>
<text x="726" y="2147.5" text-anchor="middle" textLength="44" lengthAdjust="spacingAndGlyphs">17,5</text>
<text x="796.8" y="2147.5" text-anchor="middle" textLength="44" lengthAdjust="spacingAndGlyphs">18,0</text>
<text x="867.5" y="2147.5" text-anchor="middle" textLength="44" lengthAdjust="spacingAndGlyphs">18,1</text>
<text x="938.2" y="2147.5" text-anchor="middle" textLength="44" lengthAdjust="spacingAndGlyphs">18,2</text>
<text x="1009" y="2147.5" text-anchor="middle" textLength="44" lengthAdjust="spacingAndGlyphs">18,3</text>
<text x="1079.8" y="2147.5" text-anchor="middle" textLength="44" lengthAdjust="spacingAndGlyphs">18,4</text>
<text x="402.8" y="2147.5" textLength="70.5" lengthAdjust="spacingAndGlyphs">менее</text>
<text x="1127.7" y="2147.5" textLength="67.3" lengthAdjust="spacingAndGlyphs">более</text>
<text x="635.7" y="2077.5" font-size="24" textLength="333.1" lengthAdjust="spacingAndGlyphs">Соленость воды (в промилле)</text>
</g>
<g transform="translate(0,0)">
<g fill="none" stroke="#3c3c3c" stroke-width="3.4" stroke-dasharray="17 4 3.5 4" stroke-linejoin="round">
<path d="M350.8,314.7L335.6,307L330.6,294.5L323,279.4L307.9,274.3L285,275.6L272.5,282L265,287L260,282L255,284.4L249.8,282L242.3,284.4L237,288L227,279.4L219.6,273"/>
<path d="M197,476L182,473L169.8,466L159.7,462L149.6,458L145.5,451.8L141.5,441.7L131.4,438.7"/>
<path d="M101,702L80.8,704L58,707.7L53,702L44,690.7L32.8,675.5L22.7,675.5"/>
<path d="M1281,639L1282.8,624L1290.4,614.4L1305.5,608.8L1324.5,610.7L1343.4,614.4L1354.8,612.6L1360.4,606.9"/>
<path d="M1413.4,885L1434.2,892.7L1457,899.5L1458.9,895.7L1472,893.4L1487.3,896.5L1496.7,906"/>
</g>
<g font-family="'Liberation Serif',serif" font-weight="bold" font-size="26.5" text-anchor="middle" fill="#000" stroke="#000" stroke-width="1" stroke-linejoin="round">
<text transform="translate(30.3,652) rotate(-78)" y="7.1" font-size="21.5" stroke-width="0.9">Б</text>
<text transform="translate(38.4,627.7) rotate(-72)" y="7.1" font-size="21.5" stroke-width="0.9">О</text>
<text transform="translate(46.5,601.4) rotate(-68)" y="7.1" font-size="21.5" stroke-width="0.9">Л</text>
<text transform="translate(56.6,577) rotate(-64)" y="7.1" font-size="21.5" stroke-width="0.9">Г</text>
<text transform="translate(69.7,553) rotate(-60)" y="7.1" font-size="21.5" stroke-width="0.9">А</text>
<text transform="translate(87,522.6) rotate(-55)" y="7.1" font-size="21.5" stroke-width="0.9">Р</text>
<text transform="translate(107,500) rotate(-50)" y="7.1" font-size="21.5" stroke-width="0.9">И</text>
<text transform="translate(126.3,478) rotate(-45)" y="7.1" font-size="21.5" stroke-width="0.9">Я</text>
<text transform="translate(168.8,439.7) rotate(-65)" y="7.1" font-size="21.5" stroke-width="0.9">Р</text>
<text transform="translate(182,421.5) rotate(-62)" y="7.1" font-size="21.5" stroke-width="0.9">У</text>
<text transform="translate(194,399) rotate(-60)" y="7.1" font-size="21.5" stroke-width="0.9">М</text>
<text transform="translate(210,375) rotate(-57)" y="7.1" font-size="21.5" stroke-width="0.9">Ы</text>
<text transform="translate(222.4,352.8) rotate(-52)" y="7.1" font-size="21.5" stroke-width="0.9">Н</text>
<text transform="translate(238.5,332.6) rotate(-45)" y="7.1" font-size="21.5" stroke-width="0.9">И</text>
<text transform="translate(256.7,314.4) rotate(-40)" y="7.1" font-size="21.5" stroke-width="0.9">Я</text>
<text transform="translate(290,245) rotate(-38)" y="8.7">У</text>
<text transform="translate(366.6,182.7) rotate(-40)" y="8.7">К</text>
<text transform="translate(444,126) rotate(-25)" y="8.7">Р</text>
<text transform="translate(530.5,112.7) rotate(5)" y="8.7">А</text>
<text transform="translate(618.3,146.8) rotate(38)" y="8.7">И</text>
<text transform="translate(701.6,205.5) rotate(42)" y="8.7">Н</text>
<text transform="translate(769.7,275.5) rotate(50)" y="8.7">А</text>
<text transform="translate(1025.4,377.9) rotate(35)" y="8.7">Р</text>
<text transform="translate(1086,415.7) rotate(35)" y="8.7">О</text>
<text transform="translate(1143.5,458) rotate(35)" y="8.7">С</text>
<text transform="translate(1199.6,500.9) rotate(38)" y="8.7">С</text>
<text transform="translate(1256.3,546.3) rotate(40)" y="8.7">И</text>
<text transform="translate(1316,588) rotate(42)" y="8.7">Я</text>
<text transform="translate(1318.8,633.4) rotate(40)" y="8.7">Г</text>
<text transform="translate(1368,661.8) rotate(40)" y="8.7">Р</text>
<text transform="translate(1411.5,694) rotate(45)" y="8.7">У</text>
<text transform="translate(1443.7,740.5) rotate(65)" y="8.7">З</text>
<text transform="translate(1463.8,792.4) rotate(80)" y="8.7">И</text>
<text transform="translate(1474,847) rotate(90)" y="8.7">Я</text>
<text transform="translate(263.5,885) rotate(13)" y="8.7">Т</text>
<text transform="translate(412,889.6) rotate(3)" y="8.7">У</text>
<text transform="translate(560.6,858.4) rotate(-15)" y="8.7">Р</text>
<text transform="translate(710,849.3) rotate(8)" y="8.7">Ц</text>
<text transform="translate(851.3,902) rotate(30)" y="8.7">И</text>
<text transform="translate(992,973) rotate(25)" y="8.7">Я</text>
</g>
<g font-family="'Liberation Sans',sans-serif" font-style="italic" font-size="23.3" fill="#000" stroke="#000" stroke-width="0.4">
<text x="368.5" y="156" textLength="79.5" lengthAdjust="spacingAndGlyphs">Одесса</text>
<text x="683" y="431.7" textLength="141.5" lengthAdjust="spacingAndGlyphs">Севастополь</text>
<text x="1036.8" y="444" textLength="159" lengthAdjust="spacingAndGlyphs">Новороссийск</text>
<text x="1169" y="530" textLength="74" lengthAdjust="spacingAndGlyphs">Туапсе</text>
<text x="1239" y="595.5" textLength="53" lengthAdjust="spacingAndGlyphs">Сочи</text>
<text x="1454" y="885" textLength="79.4" lengthAdjust="spacingAndGlyphs">Батуми</text>
<text x="711" y="817" textLength="69.3" lengthAdjust="spacingAndGlyphs">Синоп</text>
<text x="53" y="541.8" textLength="65" lengthAdjust="spacingAndGlyphs">Варна</text>
</g></g>
<g transform="translate(27,1030)">
<g fill="none" stroke="#3c3c3c" stroke-width="3.4" stroke-dasharray="17 4 3.5 4" stroke-linejoin="round">
<path d="M350.8,314.7L335.6,307L330.6,294.5L323,279.4L307.9,274.3L285,275.6L272.5,282L265,287L260,282L255,284.4L249.8,282L242.3,284.4L237,288L227,279.4L219.6,273"/>
<path d="M197,476L182,473L169.8,466L159.7,462L149.6,458L145.5,451.8L141.5,441.7L131.4,438.7"/>
<path d="M101,702L80.8,704L58,707.7L53,702L44,690.7L32.8,675.5L22.7,675.5"/>
<path d="M1281,639L1282.8,624L1290.4,614.4L1305.5,608.8L1324.5,610.7L1343.4,614.4L1354.8,612.6L1360.4,606.9"/>
<path d="M1413.4,885L1434.2,892.7L1457,899.5L1458.9,895.7L1472,893.4L1487.3,896.5L1496.7,906"/>
</g>
<g font-family="'Liberation Serif',serif" font-weight="bold" font-size="26.5" text-anchor="middle" fill="#000" stroke="#000" stroke-width="1" stroke-linejoin="round">
<text transform="translate(30.3,652) rotate(-78)" y="7.1" font-size="21.5" stroke-width="0.9">Б</text>
<text transform="translate(38.4,627.7) rotate(-72)" y="7.1" font-size="21.5" stroke-width="0.9">О</text>
<text transform="translate(46.5,601.4) rotate(-68)" y="7.1" font-size="21.5" stroke-width="0.9">Л</text>
<text transform="translate(56.6,577) rotate(-64)" y="7.1" font-size="21.5" stroke-width="0.9">Г</text>
<text transform="translate(69.7,553) rotate(-60)" y="7.1" font-size="21.5" stroke-width="0.9">А</text>
<text transform="translate(87,522.6) rotate(-55)" y="7.1" font-size="21.5" stroke-width="0.9">Р</text>
<text transform="translate(107,500) rotate(-50)" y="7.1" font-size="21.5" stroke-width="0.9">И</text>
<text transform="translate(126.3,478) rotate(-45)" y="7.1" font-size="21.5" stroke-width="0.9">Я</text>
<text transform="translate(168.8,439.7) rotate(-65)" y="7.1" font-size="21.5" stroke-width="0.9">Р</text>
<text transform="translate(182,421.5) rotate(-62)" y="7.1" font-size="21.5" stroke-width="0.9">У</text>
<text transform="translate(194,399) rotate(-60)" y="7.1" font-size="21.5" stroke-width="0.9">М</text>
<text transform="translate(210,375) rotate(-57)" y="7.1" font-size="21.5" stroke-width="0.9">Ы</text>
<text transform="translate(222.4,352.8) rotate(-52)" y="7.1" font-size="21.5" stroke-width="0.9">Н</text>
<text transform="translate(238.5,332.6) rotate(-45)" y="7.1" font-size="21.5" stroke-width="0.9">И</text>
<text transform="translate(256.7,314.4) rotate(-40)" y="7.1" font-size="21.5" stroke-width="0.9">Я</text>
<text transform="translate(290,245) rotate(-38)" y="8.7">У</text>
<text transform="translate(366.6,182.7) rotate(-40)" y="8.7">К</text>
<text transform="translate(444,126) rotate(-25)" y="8.7">Р</text>
<text transform="translate(530.5,112.7) rotate(5)" y="8.7">А</text>
<text transform="translate(618.3,146.8) rotate(38)" y="8.7">И</text>
<text transform="translate(701.6,205.5) rotate(42)" y="8.7">Н</text>
<text transform="translate(769.7,275.5) rotate(50)" y="8.7">А</text>
<text transform="translate(1025.4,377.9) rotate(35)" y="8.7">Р</text>
<text transform="translate(1086,415.7) rotate(35)" y="8.7">О</text>
<text transform="translate(1143.5,458) rotate(35)" y="8.7">С</text>
<text transform="translate(1199.6,500.9) rotate(38)" y="8.7">С</text>
<text transform="translate(1256.3,546.3) rotate(40)" y="8.7">И</text>
<text transform="translate(1316,588) rotate(42)" y="8.7">Я</text>
<text transform="translate(1318.8,633.4) rotate(40)" y="8.7">Г</text>
<text transform="translate(1368,661.8) rotate(40)" y="8.7">Р</text>
<text transform="translate(1411.5,694) rotate(45)" y="8.7">У</text>
<text transform="translate(1443.7,740.5) rotate(65)" y="8.7">З</text>
<text transform="translate(1463.8,792.4) rotate(80)" y="8.7">И</text>
<text transform="translate(1474,847) rotate(90)" y="8.7">Я</text>
<text transform="translate(263.5,885) rotate(13)" y="8.7">Т</text>
<text transform="translate(412,889.6) rotate(3)" y="8.7">У</text>
<text transform="translate(560.6,858.4) rotate(-15)" y="8.7">Р</text>
<text transform="translate(710,849.3) rotate(8)" y="8.7">Ц</text>
<text transform="translate(851.3,902) rotate(30)" y="8.7">И</text>
<text transform="translate(992,973) rotate(25)" y="8.7">Я</text>
</g>
<g font-family="'Liberation Sans',sans-serif" font-style="italic" font-size="23.3" fill="#000" stroke="#000" stroke-width="0.4">
<text x="368.5" y="156" textLength="79.5" lengthAdjust="spacingAndGlyphs">Одесса</text>
<text x="683" y="426.9" textLength="141.5" lengthAdjust="spacingAndGlyphs">Севастополь</text>
<text x="1036.8" y="444" textLength="159" lengthAdjust="spacingAndGlyphs">Новороссийск</text>
<text x="1169" y="530" textLength="74" lengthAdjust="spacingAndGlyphs">Туапсе</text>
<text x="1239" y="595.5" textLength="53" lengthAdjust="spacingAndGlyphs">Сочи</text>
<text x="1454" y="885" textLength="79.4" lengthAdjust="spacingAndGlyphs">Батуми</text>
<text x="711" y="817" textLength="69.3" lengthAdjust="spacingAndGlyphs">Синоп</text>
<text x="53" y="541.8" textLength="65" lengthAdjust="spacingAndGlyphs">Варна</text>
</g></g>
<rect x="1362" y="1205.9" width="5" height="1.1" fill="#666"/>
</svg></body></html>
